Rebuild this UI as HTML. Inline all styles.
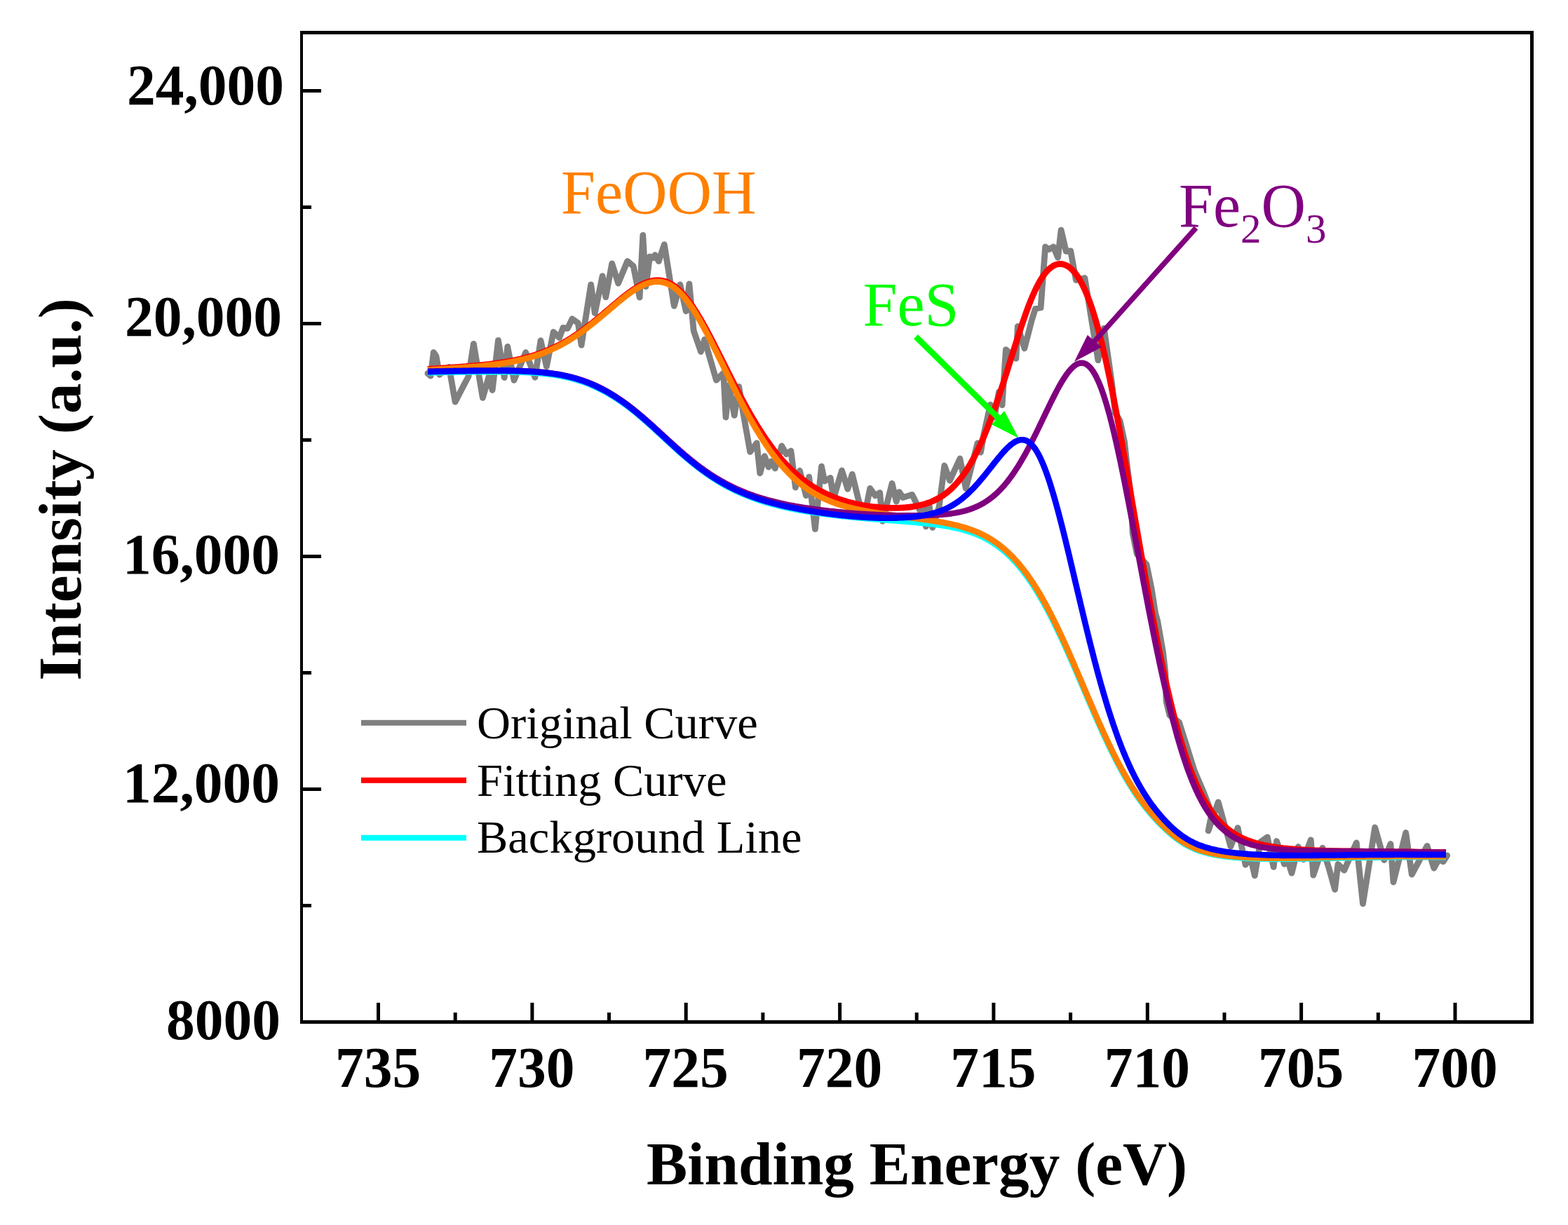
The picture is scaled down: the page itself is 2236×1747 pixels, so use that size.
<!DOCTYPE html>
<html><head><meta charset="utf-8"><style>
html,body{margin:0;padding:0;background:#fff;}
svg{display:block;}
.tl{font-family:"Liberation Serif",serif;font-weight:bold;font-size:81.5px;fill:#000;}
.at{font-family:"Liberation Serif",serif;font-weight:bold;font-size:87.3px;fill:#000;}
.lg{font-family:"Liberation Serif",serif;font-size:66.5px;fill:#000;}
.an{font-family:"Liberation Serif",serif;font-size:88px;}
</style></head><body>
<svg width="2236" height="1747" viewBox="0 0 2236 1747" xmlns="http://www.w3.org/2000/svg">
<path d="M609.9,532.5 L614.1,536.2 L618.3,502.5 L622.0,508.0 L626.7,534.3 L640.4,523.4 L649.1,573.2 L660.0,552.0 L668.0,537.0 L675.4,490.3 L688.4,567.4 L696.8,537.9 L702.1,556.4 L710.5,485.3 L719.2,538.5 L723.8,494.5 L733.0,542.3 L749.7,502.5 L763.0,538.2 L771.0,485.7 L779.4,522.7 L789.2,473.5 L797.7,481.5 L802.9,467.4 L809.4,468.3 L816.0,454.7 L824.4,460.8 L829.1,492.2 L842.7,405.8 L848.3,446.6 L859.1,393.6 L863.8,423.7 L872.7,375.8 L881.6,404.0 L894.7,372.5 L903.2,379.6 L912.1,424.1 L916.8,335.5 L921.0,408.6 L926.6,366.0 L931.3,367.8 L934.1,363.6 L939.3,372.5 L947.3,348.6 L961.3,436.3 L969.8,405.8 L978.2,443.8 L982.9,404.9 L989.2,471.8 L999.5,501.5 L1004.7,484.2 L1021.4,542.1 L1031.7,531.9 L1035.0,595.0 L1039.5,549.3 L1047.2,592.4 L1053.7,551.3 L1060.0,590.0 L1069.7,644.4 L1079.1,631.8 L1083.8,674.9 L1090.3,650.5 L1096.0,666.0 L1099.7,658.0 L1105.3,667.9 L1114.7,636.0 L1121.3,647.7 L1127.9,643.0 L1134.4,695.1 L1140.5,671.2 L1149.4,706.8 L1153.7,680.1 L1162.4,754.5 L1171.5,665.1 L1175.7,686.2 L1184.1,681.5 L1188.8,710.6 L1200.5,671.0 L1208.8,697.4 L1215.3,676.3 L1224.0,712.0 L1232.2,738.7 L1240.7,696.5 L1248.2,706.8 L1254.7,702.6 L1258.5,743.4 L1272.1,689.4 L1278.2,715.2 L1282.4,701.6 L1287.6,709.6 L1300.7,705.4 L1312.0,728.4 L1316.0,722.0 L1320.4,750.9 L1325.1,720.8 L1329.8,752.3 L1339.2,722.7 L1346.8,664.0 L1354.4,685.3 L1368.9,654.0 L1377.3,696.6 L1394.0,632.0 L1398.5,645.0 L1403.0,619.0 L1412.3,577.1 L1418.0,595.0 L1424.5,558.8 L1429.1,577.7 L1434.4,498.6 L1448.9,511.4 L1451.3,465.4 L1460.9,496.8 L1471.2,457.0 L1476.4,440.3 L1484.1,438.8 L1490.6,352.0 L1495.7,355.7 L1502.2,352.0 L1508.6,367.3 L1513.1,328.1 L1520.2,358.3 L1526.7,357.8 L1534.4,399.5 L1546.9,396.5 L1565.9,513.7 L1574.3,468.1 L1585.7,547.7 L1590.3,588.8 L1597.1,600.0 L1603.5,630.0 L1606.8,660.0 L1611.8,700.0 L1613.9,730.0 L1615.1,760.0 L1621.3,790.0 L1635.0,805.0 L1642.2,840.0 L1647.7,875.0 L1650.6,885.0 L1658.5,930.0 L1661.9,960.0 L1663.0,1000.0 L1667.9,1020.0 L1681.5,1030.0 L1691.0,1060.0 L1703.5,1100.0 L1716.5,1130.0 L1728.0,1160.0 L1723.1,1184.8 L1737.2,1144.0 L1755.0,1207.3 L1765.1,1180.6 L1776.1,1233.3 L1783.0,1222.0 L1789.3,1248.7 L1797.2,1200.8 L1807.3,1193.8 L1816.1,1236.4 L1820.5,1199.5 L1831.5,1232.4 L1836.7,1228.0 L1842.0,1245.2 L1851.3,1207.4 L1858.7,1225.8 L1869.3,1197.8 L1872.8,1248.2 L1886.0,1209.2 L1895.0,1238.0 L1903.6,1268.5 L1908.0,1232.5 L1916.8,1241.2 L1934.3,1201.8 L1943.5,1288.9 L1960.7,1180.0 L1973.8,1226.5 L1983.0,1203.5 L1987.0,1258.0 L2004.7,1187.5 L2013.3,1247.1 L2035.1,1206.4 L2044.8,1238.0 L2052.0,1225.0 L2058.0,1228.8 L2063.7,1220.0" fill="none" stroke="#808080" stroke-width="8.8" stroke-linejoin="round" stroke-linecap="round"/>
<path d="M610.0,526.5 L612.0,526.3 L614.0,526.2 L616.0,526.1 L618.0,525.9 L620.0,525.8 L622.0,525.7 L624.0,525.5 L626.0,525.4 L628.0,525.3 L630.0,525.1 L632.0,525.0 L634.0,524.9 L636.0,524.7 L638.0,524.6 L640.0,524.5 L642.0,524.3 L644.0,524.2 L646.0,524.0 L648.0,523.9 L650.0,523.7 L652.0,523.6 L654.0,523.4 L656.0,523.3 L658.0,523.1 L660.0,523.0 L662.0,522.8 L664.0,522.7 L666.0,522.5 L668.0,522.3 L670.0,522.2 L672.0,522.0 L674.0,521.8 L676.0,521.6 L678.0,521.4 L680.0,521.3 L682.0,521.1 L684.0,520.9 L686.0,520.7 L688.0,520.5 L690.0,520.3 L692.0,520.0 L694.0,519.8 L696.0,519.6 L698.0,519.4 L700.0,519.1 L702.0,518.9 L704.0,518.6 L706.0,518.4 L708.0,518.1 L710.0,517.8 L712.0,517.5 L714.0,517.2 L716.0,516.9 L718.0,516.6 L720.0,516.3 L722.0,515.9 L724.0,515.6 L726.0,515.2 L728.0,514.9 L730.0,514.5 L732.0,514.1 L734.0,513.7 L736.0,513.3 L738.0,512.8 L740.0,512.4 L742.0,511.9 L744.0,511.5 L746.0,511.0 L748.0,510.5 L750.0,509.9 L752.0,509.4 L754.0,508.8 L756.0,508.3 L758.0,507.7 L760.0,507.1 L762.0,506.5 L764.0,505.8 L766.0,505.1 L768.0,504.5 L770.0,503.8 L772.0,503.0 L774.0,502.3 L776.0,501.5 L778.0,500.7 L780.0,499.9 L782.0,499.1 L784.0,498.2 L786.0,497.3 L788.0,496.4 L790.0,495.5 L792.0,494.5 L794.0,493.6 L796.0,492.6 L798.0,491.5 L800.0,490.5 L802.0,489.4 L804.0,488.3 L806.0,487.1 L808.0,486.0 L810.0,484.8 L812.0,483.6 L814.0,482.4 L816.0,481.1 L818.0,479.8 L820.0,478.5 L822.0,477.2 L824.0,475.8 L826.0,474.4 L828.0,473.0 L830.0,471.6 L832.0,470.1 L834.0,468.6 L836.0,467.1 L838.0,465.6 L840.0,464.1 L842.0,462.5 L844.0,460.9 L846.0,459.4 L848.0,457.7 L850.0,456.1 L852.0,454.5 L854.0,452.8 L856.0,451.1 L858.0,449.5 L860.0,447.8 L862.0,446.1 L864.0,444.4 L866.0,442.7 L868.0,441.0 L870.0,439.3 L872.0,437.6 L874.0,435.9 L876.0,434.2 L878.0,432.5 L880.0,430.8 L882.0,429.1 L884.0,427.5 L886.0,425.8 L888.0,424.2 L890.0,422.6 L892.0,421.1 L894.0,419.5 L896.0,418.0 L898.0,416.5 L900.0,415.1 L902.0,413.7 L904.0,412.4 L906.0,411.1 L908.0,409.8 L910.0,408.6 L912.0,407.5 L914.0,406.4 L916.0,405.4 L918.0,404.5 L920.0,403.6 L922.0,402.9 L924.0,402.1 L926.0,401.5 L928.0,401.0 L930.0,400.5 L932.0,400.2 L934.0,399.9 L936.0,399.8 L938.0,399.7 L940.0,399.8 L942.0,400.0 L944.0,400.3 L946.0,400.7 L948.0,401.2 L950.0,401.8 L952.0,402.6 L954.0,403.5 L956.0,404.5 L958.0,405.6 L960.0,406.9 L962.0,408.3 L964.0,409.8 L966.0,411.5 L968.0,413.2 L970.0,415.1 L972.0,417.2 L974.0,419.3 L976.0,421.6 L978.0,424.0 L980.0,426.5 L982.0,429.1 L984.0,431.8 L986.0,434.6 L988.0,437.5 L990.0,440.6 L992.0,443.7 L994.0,446.9 L996.0,450.2 L998.0,453.5 L1000.0,457.0 L1002.0,460.5 L1004.0,464.1 L1006.0,467.7 L1008.0,471.4 L1010.0,475.1 L1012.0,478.9 L1014.0,482.7 L1016.0,486.6 L1018.0,490.5 L1020.0,494.4 L1022.0,498.4 L1024.0,502.3 L1026.0,506.3 L1028.0,510.3 L1030.0,514.3 L1032.0,518.3 L1034.0,522.3 L1036.0,526.3 L1038.0,530.2 L1040.0,534.2 L1042.0,538.2 L1044.0,542.1 L1046.0,546.0 L1048.0,549.9 L1050.0,553.8 L1052.0,557.7 L1054.0,561.5 L1056.0,565.3 L1058.0,569.0 L1060.0,572.7 L1062.0,576.4 L1064.0,580.1 L1066.0,583.7 L1068.0,587.2 L1070.0,590.7 L1072.0,594.2 L1074.0,597.6 L1076.0,600.9 L1078.0,604.2 L1080.0,607.5 L1082.0,610.7 L1084.0,613.9 L1086.0,617.0 L1088.0,620.0 L1090.0,623.0 L1092.0,625.9 L1094.0,628.8 L1096.0,631.7 L1098.0,634.4 L1100.0,637.1 L1102.0,639.8 L1104.0,642.4 L1106.0,645.0 L1108.0,647.4 L1110.0,649.9 L1112.0,652.3 L1114.0,654.6 L1116.0,656.9 L1118.0,659.1 L1120.0,661.2 L1122.0,663.3 L1124.0,665.4 L1126.0,667.4 L1128.0,669.4 L1130.0,671.3 L1132.0,673.1 L1134.0,674.9 L1136.0,676.7 L1138.0,678.4 L1140.0,680.1 L1142.0,681.7 L1144.0,683.3 L1146.0,684.8 L1148.0,686.3 L1150.0,687.8 L1152.0,689.2 L1154.0,690.5 L1156.0,691.9 L1158.0,693.2 L1160.0,694.4 L1162.0,695.7 L1164.0,696.8 L1166.0,698.0 L1168.0,699.1 L1170.0,700.2 L1172.0,701.2 L1174.0,702.3 L1176.0,703.3 L1178.0,704.2 L1180.0,705.1 L1182.0,706.0 L1184.0,706.9 L1186.0,707.7 L1188.0,708.6 L1190.0,709.4 L1192.0,710.1 L1194.0,710.9 L1196.0,711.6 L1198.0,712.3 L1200.0,712.9 L1202.0,713.6 L1204.0,714.2 L1206.0,714.8 L1208.0,715.4 L1210.0,715.9 L1212.0,716.5 L1214.0,717.0 L1216.0,717.5 L1218.0,718.0 L1220.0,718.4 L1222.0,718.9 L1224.0,719.3 L1226.0,719.7 L1228.0,720.1 L1230.0,720.5 L1232.0,720.8 L1234.0,721.1 L1236.0,721.5 L1238.0,721.8 L1240.0,722.1 L1242.0,722.3 L1244.0,722.6 L1246.0,722.8 L1248.0,723.0 L1250.0,723.2 L1252.0,723.4 L1254.0,723.6 L1256.0,723.8 L1258.0,723.9 L1260.0,724.0 L1262.0,724.1 L1264.0,724.2 L1266.0,724.3 L1268.0,724.4 L1270.0,724.4 L1272.0,724.4 L1274.0,724.4 L1276.0,724.4 L1278.0,724.4 L1280.0,724.4 L1282.0,724.3 L1284.0,724.2 L1286.0,724.1 L1288.0,724.0 L1290.0,723.8 L1292.0,723.7 L1294.0,723.5 L1296.0,723.3 L1298.0,723.0 L1300.0,722.8 L1302.0,722.5 L1304.0,722.2 L1306.0,721.8 L1308.0,721.4 L1310.0,721.0 L1312.0,720.6 L1314.0,720.1 L1316.0,719.6 L1318.0,719.0 L1320.0,718.4 L1322.0,717.7 L1324.0,717.0 L1326.0,716.3 L1328.0,715.5 L1330.0,714.7 L1332.0,713.8 L1334.0,712.8 L1336.0,711.8 L1338.0,710.7 L1340.0,709.5 L1342.0,708.3 L1344.0,707.0 L1346.0,705.7 L1348.0,704.2 L1350.0,702.7 L1352.0,701.1 L1354.0,699.4 L1356.0,697.6 L1358.0,695.7 L1360.0,693.7 L1362.0,691.6 L1364.0,689.4 L1366.0,687.1 L1368.0,684.7 L1370.0,682.2 L1372.0,679.6 L1374.0,676.9 L1376.0,674.0 L1378.0,671.0 L1380.0,667.9 L1382.0,664.7 L1384.0,661.3 L1386.0,657.8 L1388.0,654.1 L1390.0,650.4 L1392.0,646.5 L1394.0,642.4 L1396.0,638.3 L1398.0,634.0 L1400.0,629.5 L1402.0,624.9 L1404.0,620.2 L1406.0,615.4 L1408.0,610.4 L1410.0,605.3 L1412.0,600.1 L1414.0,594.8 L1416.0,589.3 L1418.0,583.7 L1420.0,578.1 L1422.0,572.3 L1424.0,566.4 L1426.0,560.4 L1428.0,554.4 L1430.0,548.3 L1432.0,542.1 L1434.0,535.9 L1436.0,529.6 L1438.0,523.2 L1440.0,516.9 L1442.0,510.5 L1444.0,504.2 L1446.0,497.8 L1448.0,491.5 L1450.0,485.3 L1452.0,479.0 L1454.0,472.9 L1456.0,466.8 L1458.0,460.9 L1460.0,455.1 L1462.0,449.4 L1464.0,443.8 L1466.0,438.4 L1468.0,433.2 L1470.0,428.2 L1472.0,423.4 L1474.0,418.7 L1476.0,414.3 L1478.0,410.2 L1480.0,406.2 L1482.0,402.5 L1484.0,399.1 L1486.0,395.9 L1488.0,392.9 L1490.0,390.2 L1492.0,387.8 L1494.0,385.6 L1496.0,383.6 L1498.0,381.9 L1500.0,380.4 L1502.0,379.2 L1504.0,378.1 L1506.0,377.4 L1508.0,376.8 L1510.0,376.5 L1512.0,376.4 L1514.0,376.5 L1516.0,376.9 L1518.0,377.5 L1520.0,378.3 L1522.0,379.3 L1524.0,380.6 L1526.0,382.1 L1528.0,383.9 L1530.0,385.8 L1532.0,388.1 L1534.0,390.6 L1536.0,393.3 L1538.0,396.3 L1540.0,399.6 L1542.0,403.2 L1544.0,407.0 L1546.0,411.1 L1548.0,415.5 L1550.0,420.3 L1552.0,425.3 L1554.0,430.6 L1556.0,436.3 L1558.0,442.2 L1560.0,448.5 L1562.0,455.1 L1564.0,462.0 L1566.0,469.3 L1568.0,476.8 L1570.0,484.6 L1572.0,492.8 L1574.0,501.2 L1576.0,509.9 L1578.0,518.9 L1580.0,528.2 L1582.0,537.7 L1584.0,547.4 L1586.0,557.4 L1588.0,567.6 L1590.0,578.0 L1592.0,588.6 L1594.0,599.4 L1596.0,610.3 L1598.0,621.4 L1600.0,632.6 L1602.0,643.9 L1604.0,655.2 L1606.0,666.7 L1608.0,678.2 L1610.0,689.8 L1612.0,701.4 L1614.0,713.1 L1616.0,724.7 L1618.0,736.3 L1620.0,747.9 L1622.0,759.5 L1624.0,771.0 L1626.0,782.5 L1628.0,793.9 L1630.0,805.3 L1632.0,816.5 L1634.0,827.7 L1636.0,838.7 L1638.0,849.6 L1640.0,860.5 L1642.0,871.1 L1644.0,881.7 L1646.0,892.1 L1648.0,902.4 L1650.0,912.5 L1652.0,922.5 L1654.0,932.2 L1656.0,941.9 L1658.0,951.3 L1660.0,960.6 L1662.0,969.7 L1664.0,978.6 L1666.0,987.3 L1668.0,995.9 L1670.0,1004.2 L1672.0,1012.3 L1674.0,1020.3 L1676.0,1028.0 L1678.0,1035.5 L1680.0,1042.8 L1682.0,1049.9 L1684.0,1056.7 L1686.0,1063.4 L1688.0,1069.8 L1690.0,1076.0 L1692.0,1082.0 L1694.0,1087.8 L1696.0,1093.4 L1698.0,1098.8 L1700.0,1104.0 L1702.0,1109.0 L1704.0,1113.8 L1706.0,1118.4 L1708.0,1122.8 L1710.0,1127.0 L1712.0,1131.1 L1714.0,1135.0 L1716.0,1138.7 L1718.0,1142.2 L1720.0,1145.7 L1722.0,1148.9 L1724.0,1152.0 L1726.0,1155.0 L1728.0,1157.9 L1730.0,1160.6 L1732.0,1163.2 L1734.0,1165.6 L1736.0,1168.0 L1738.0,1170.2 L1740.0,1172.4 L1742.0,1174.4 L1744.0,1176.4 L1746.0,1178.2 L1748.0,1180.0 L1750.0,1181.6 L1752.0,1183.2 L1754.0,1184.8 L1756.0,1186.2 L1758.0,1187.6 L1760.0,1188.9 L1762.0,1190.1 L1764.0,1191.3 L1766.0,1192.4 L1768.0,1193.4 L1770.0,1194.5 L1772.0,1195.4 L1774.0,1196.3 L1776.0,1197.2 L1778.0,1198.0 L1780.0,1198.8 L1782.0,1199.5 L1784.0,1200.2 L1786.0,1200.9 L1788.0,1201.5 L1790.0,1202.1 L1792.0,1202.7 L1794.0,1203.2 L1796.0,1203.8 L1798.0,1204.2 L1800.0,1204.7 L1802.0,1205.2 L1804.0,1205.6 L1806.0,1206.0 L1808.0,1206.4 L1810.0,1206.7 L1812.0,1207.1 L1814.0,1207.4 L1816.0,1207.7 L1818.0,1208.0 L1820.0,1208.3 L1822.0,1208.6 L1824.0,1208.8 L1826.0,1209.1 L1828.0,1209.3 L1830.0,1209.6 L1832.0,1209.8 L1834.0,1210.0 L1836.0,1210.2 L1838.0,1210.4 L1840.0,1210.6 L1842.0,1210.7 L1844.0,1210.9 L1846.0,1211.1 L1848.0,1211.2 L1850.0,1211.4 L1852.0,1211.5 L1854.0,1211.6 L1856.0,1211.8 L1858.0,1211.9 L1860.0,1212.0 L1862.0,1212.1 L1864.0,1212.2 L1866.0,1212.3 L1868.0,1212.4 L1870.0,1212.5 L1872.0,1212.6 L1874.0,1212.7 L1876.0,1212.8 L1878.0,1212.8 L1880.0,1212.9 L1882.0,1213.0 L1884.0,1213.1 L1886.0,1213.1 L1888.0,1213.2 L1890.0,1213.3 L1892.0,1213.3 L1894.0,1213.4 L1896.0,1213.4 L1898.0,1213.5 L1900.0,1213.5 L1902.0,1213.6 L1904.0,1213.6 L1906.0,1213.7 L1908.0,1213.7 L1910.0,1213.7 L1912.0,1213.8 L1914.0,1213.8 L1916.0,1213.8 L1918.0,1213.9 L1920.0,1213.9 L1922.0,1213.9 L1924.0,1214.0 L1926.0,1214.0 L1928.0,1214.0 L1930.0,1214.1 L1932.0,1214.1 L1934.0,1214.1 L1936.0,1214.1 L1938.0,1214.2 L1940.0,1214.2 L1942.0,1214.2 L1944.0,1214.2 L1946.0,1214.3 L1948.0,1214.3 L1950.0,1214.3 L1952.0,1214.3 L1954.0,1214.4 L1956.0,1214.4 L1958.0,1214.4 L1960.0,1214.4 L1962.0,1214.4 L1964.0,1214.5 L1966.0,1214.5 L1968.0,1214.5 L1970.0,1214.5 L1972.0,1214.6 L1974.0,1214.6 L1976.0,1214.6 L1978.0,1214.6 L1980.0,1214.7 L1982.0,1214.7 L1984.0,1214.7 L1986.0,1214.7 L1988.0,1214.7 L1990.0,1214.8 L1992.0,1214.8 L1994.0,1214.8 L1996.0,1214.8 L1998.0,1214.9 L2000.0,1214.9 L2002.0,1214.9 L2004.0,1214.9 L2006.0,1214.9 L2008.0,1215.0 L2010.0,1215.0 L2012.0,1215.0 L2014.0,1215.0 L2016.0,1215.0 L2018.0,1215.1 L2020.0,1215.1 L2022.0,1215.1 L2024.0,1215.1 L2026.0,1215.1 L2028.0,1215.1 L2030.0,1215.2 L2032.0,1215.2 L2034.0,1215.2 L2036.0,1215.2 L2038.0,1215.2 L2040.0,1215.2 L2042.0,1215.3 L2044.0,1215.3 L2046.0,1215.3 L2048.0,1215.3 L2050.0,1215.3 L2052.0,1215.3 L2054.0,1215.3 L2056.0,1215.3 L2058.0,1215.4 L2060.0,1215.4 L2062.0,1215.4" fill="none" stroke="#FF0000" stroke-width="8.8" stroke-linejoin="round"/>
<path d="M610.0,531.4 L612.0,531.3 L614.0,531.3 L616.0,531.2 L618.0,531.2 L620.0,531.1 L622.0,531.1 L624.0,531.0 L626.0,531.0 L628.0,530.9 L630.0,530.9 L632.0,530.9 L634.0,530.8 L636.0,530.8 L638.0,530.8 L640.0,530.7 L642.0,530.7 L644.0,530.7 L646.0,530.6 L648.0,530.6 L650.0,530.6 L652.0,530.5 L654.0,530.5 L656.0,530.5 L658.0,530.4 L660.0,530.4 L662.0,530.4 L664.0,530.4 L666.0,530.3 L668.0,530.3 L670.0,530.3 L672.0,530.3 L674.0,530.3 L676.0,530.2 L678.0,530.2 L680.0,530.2 L682.0,530.2 L684.0,530.2 L686.0,530.2 L688.0,530.2 L690.0,530.2 L692.0,530.2 L694.0,530.1 L696.0,530.1 L698.0,530.1 L700.0,530.1 L702.0,530.1 L704.0,530.1 L706.0,530.1 L708.0,530.2 L710.0,530.2 L712.0,530.2 L714.0,530.2 L716.0,530.2 L718.0,530.2 L720.0,530.2 L722.0,530.3 L724.0,530.3 L726.0,530.3 L728.0,530.3 L730.0,530.4 L732.0,530.4 L734.0,530.5 L736.0,530.5 L738.0,530.6 L740.0,530.6 L742.0,530.7 L744.0,530.7 L746.0,530.8 L748.0,530.9 L750.0,531.0 L752.0,531.1 L754.0,531.2 L756.0,531.3 L758.0,531.4 L760.0,531.5 L762.0,531.7 L764.0,531.8 L766.0,532.0 L768.0,532.1 L770.0,532.3 L772.0,532.5 L774.0,532.7 L776.0,532.9 L778.0,533.1 L780.0,533.3 L782.0,533.5 L784.0,533.8 L786.0,534.1 L788.0,534.3 L790.0,534.6 L792.0,534.9 L794.0,535.3 L796.0,535.6 L798.0,536.0 L800.0,536.3 L802.0,536.7 L804.0,537.1 L806.0,537.5 L808.0,538.0 L810.0,538.4 L812.0,538.9 L814.0,539.4 L816.0,539.9 L818.0,540.5 L820.0,541.0 L822.0,541.6 L824.0,542.2 L826.0,542.8 L828.0,543.5 L830.0,544.1 L832.0,544.8 L834.0,545.5 L836.0,546.3 L838.0,547.0 L840.0,547.8 L842.0,548.6 L844.0,549.5 L846.0,550.4 L848.0,551.2 L850.0,552.2 L852.0,553.1 L854.0,554.1 L856.0,555.0 L858.0,556.1 L860.0,557.1 L862.0,558.2 L864.0,559.3 L866.0,560.4 L868.0,561.5 L870.0,562.7 L872.0,563.9 L874.0,565.1 L876.0,566.4 L878.0,567.7 L880.0,569.0 L882.0,570.3 L884.0,571.6 L886.0,573.0 L888.0,574.4 L890.0,575.9 L892.0,577.3 L894.0,578.8 L896.0,580.3 L898.0,581.8 L900.0,583.4 L902.0,584.9 L904.0,586.5 L906.0,588.1 L908.0,589.8 L910.0,591.4 L912.0,593.1 L914.0,594.8 L916.0,596.5 L918.0,598.2 L920.0,600.0 L922.0,601.7 L924.0,603.5 L926.0,605.3 L928.0,607.1 L930.0,608.9 L932.0,610.7 L934.0,612.6 L936.0,614.4 L938.0,616.2 L940.0,618.1 L942.0,619.9 L944.0,621.8 L946.0,623.6 L948.0,625.5 L950.0,627.3 L952.0,629.2 L954.0,631.0 L956.0,632.9 L958.0,634.7 L960.0,636.5 L962.0,638.4 L964.0,640.2 L966.0,642.0 L968.0,643.8 L970.0,645.5 L972.0,647.3 L974.0,649.0 L976.0,650.8 L978.0,652.5 L980.0,654.2 L982.0,655.9 L984.0,657.5 L986.0,659.2 L988.0,660.8 L990.0,662.4 L992.0,664.0 L994.0,665.6 L996.0,667.1 L998.0,668.6 L1000.0,670.1 L1002.0,671.6 L1004.0,673.1 L1006.0,674.5 L1008.0,675.9 L1010.0,677.3 L1012.0,678.7 L1014.0,680.0 L1016.0,681.3 L1018.0,682.6 L1020.0,683.9 L1022.0,685.2 L1024.0,686.4 L1026.0,687.6 L1028.0,688.8 L1030.0,689.9 L1032.0,691.1 L1034.0,692.2 L1036.0,693.3 L1038.0,694.3 L1040.0,695.4 L1042.0,696.4 L1044.0,697.4 L1046.0,698.4 L1048.0,699.4 L1050.0,700.3 L1052.0,701.3 L1054.0,702.2 L1056.0,703.1 L1058.0,703.9 L1060.0,704.8 L1062.0,705.6 L1064.0,706.5 L1066.0,707.3 L1068.0,708.0 L1070.0,708.8 L1072.0,709.6 L1074.0,710.3 L1076.0,711.0 L1078.0,711.7 L1080.0,712.4 L1082.0,713.1 L1084.0,713.8 L1086.0,714.4 L1088.0,715.0 L1090.0,715.7 L1092.0,716.3 L1094.0,716.8 L1096.0,717.4 L1098.0,718.0 L1100.0,718.5 L1102.0,719.1 L1104.0,719.6 L1106.0,720.1 L1108.0,720.6 L1110.0,721.1 L1112.0,721.6 L1114.0,722.1 L1116.0,722.6 L1118.0,723.0 L1120.0,723.5 L1122.0,723.9 L1124.0,724.3 L1126.0,724.8 L1128.0,725.2 L1130.0,725.6 L1132.0,726.0 L1134.0,726.4 L1136.0,726.7 L1138.0,727.1 L1140.0,727.5 L1142.0,727.8 L1144.0,728.2 L1146.0,728.5 L1148.0,728.9 L1150.0,729.2 L1152.0,729.5 L1154.0,729.8 L1156.0,730.2 L1158.0,730.5 L1160.0,730.8 L1162.0,731.1 L1164.0,731.3 L1166.0,731.6 L1168.0,731.9 L1170.0,732.2 L1172.0,732.5 L1174.0,732.7 L1176.0,733.0 L1178.0,733.3 L1180.0,733.5 L1182.0,733.8 L1184.0,734.0 L1186.0,734.3 L1188.0,734.5 L1190.0,734.7 L1192.0,735.0 L1194.0,735.2 L1196.0,735.4 L1198.0,735.6 L1200.0,735.9 L1202.0,736.1 L1204.0,736.3 L1206.0,736.5 L1208.0,736.7 L1210.0,736.9 L1212.0,737.1 L1214.0,737.3 L1216.0,737.5 L1218.0,737.7 L1220.0,737.9 L1222.0,738.1 L1224.0,738.2 L1226.0,738.4 L1228.0,738.6 L1230.0,738.8 L1232.0,739.0 L1234.0,739.1 L1236.0,739.3 L1238.0,739.5 L1240.0,739.6 L1242.0,739.8 L1244.0,740.0 L1246.0,740.1 L1248.0,740.3 L1250.0,740.5 L1252.0,740.6 L1254.0,740.8 L1256.0,741.0 L1258.0,741.1 L1260.0,741.3 L1262.0,741.4 L1264.0,741.6 L1266.0,741.7 L1268.0,741.9 L1270.0,742.1 L1272.0,742.2 L1274.0,742.4 L1276.0,742.5 L1278.0,742.7 L1280.0,742.8 L1282.0,743.0 L1284.0,743.2 L1286.0,743.3 L1288.0,743.5 L1290.0,743.6 L1292.0,743.8 L1294.0,744.0 L1296.0,744.1 L1298.0,744.3 L1300.0,744.5 L1302.0,744.7 L1304.0,744.8 L1306.0,745.0 L1308.0,745.2 L1310.0,745.4 L1312.0,745.6 L1314.0,745.8 L1316.0,746.0 L1318.0,746.2 L1320.0,746.4 L1322.0,746.6 L1324.0,746.8 L1326.0,747.0 L1328.0,747.3 L1330.0,747.5 L1332.0,747.8 L1334.0,748.0 L1336.0,748.3 L1338.0,748.6 L1340.0,748.8 L1342.0,749.1 L1344.0,749.4 L1346.0,749.7 L1348.0,750.1 L1350.0,750.4 L1352.0,750.8 L1354.0,751.1 L1356.0,751.5 L1358.0,751.9 L1360.0,752.3 L1362.0,752.7 L1364.0,753.2 L1366.0,753.6 L1368.0,754.1 L1370.0,754.6 L1372.0,755.1 L1374.0,755.7 L1376.0,756.3 L1378.0,756.8 L1380.0,757.5 L1382.0,758.1 L1384.0,758.8 L1386.0,759.5 L1388.0,760.2 L1390.0,761.0 L1392.0,761.7 L1394.0,762.6 L1396.0,763.4 L1398.0,764.3 L1400.0,765.2 L1402.0,766.2 L1404.0,767.2 L1406.0,768.3 L1408.0,769.3 L1410.0,770.5 L1412.0,771.6 L1414.0,772.9 L1416.0,774.1 L1418.0,775.4 L1420.0,776.8 L1422.0,778.2 L1424.0,779.7 L1426.0,781.2 L1428.0,782.7 L1430.0,784.4 L1432.0,786.0 L1434.0,787.8 L1436.0,789.6 L1438.0,791.4 L1440.0,793.3 L1442.0,795.3 L1444.0,797.4 L1446.0,799.5 L1448.0,801.6 L1450.0,803.9 L1452.0,806.1 L1454.0,808.5 L1456.0,810.9 L1458.0,813.4 L1460.0,816.0 L1462.0,818.6 L1464.0,821.3 L1466.0,824.1 L1468.0,827.0 L1470.0,829.9 L1472.0,832.9 L1474.0,835.9 L1476.0,839.0 L1478.0,842.2 L1480.0,845.5 L1482.0,848.8 L1484.0,852.2 L1486.0,855.7 L1488.0,859.2 L1490.0,862.8 L1492.0,866.5 L1494.0,870.2 L1496.0,874.0 L1498.0,877.9 L1500.0,881.8 L1502.0,885.8 L1504.0,889.8 L1506.0,893.9 L1508.0,898.1 L1510.0,902.3 L1512.0,906.5 L1514.0,910.8 L1516.0,915.1 L1518.0,919.5 L1520.0,924.0 L1522.0,928.4 L1524.0,932.9 L1526.0,937.5 L1528.0,942.0 L1530.0,946.6 L1532.0,951.2 L1534.0,955.9 L1536.0,960.5 L1538.0,965.2 L1540.0,969.8 L1542.0,974.5 L1544.0,979.2 L1546.0,983.9 L1548.0,988.6 L1550.0,993.3 L1552.0,997.9 L1554.0,1002.6 L1556.0,1007.3 L1558.0,1011.9 L1560.0,1016.5 L1562.0,1021.1 L1564.0,1025.6 L1566.0,1030.1 L1568.0,1034.6 L1570.0,1039.1 L1572.0,1043.5 L1574.0,1047.9 L1576.0,1052.2 L1578.0,1056.5 L1580.0,1060.7 L1582.0,1064.9 L1584.0,1069.0 L1586.0,1073.1 L1588.0,1077.1 L1590.0,1081.1 L1592.0,1085.0 L1594.0,1088.8 L1596.0,1092.6 L1598.0,1096.3 L1600.0,1100.0 L1602.0,1103.5 L1604.0,1107.1 L1606.0,1110.5 L1608.0,1113.9 L1610.0,1117.2 L1612.0,1120.5 L1614.0,1123.7 L1616.0,1126.8 L1618.0,1129.8 L1620.0,1132.8 L1622.0,1135.7 L1624.0,1138.6 L1626.0,1141.4 L1628.0,1144.1 L1630.0,1146.8 L1632.0,1149.4 L1634.0,1152.0 L1636.0,1154.5 L1638.0,1156.9 L1640.0,1159.3 L1642.0,1161.6 L1644.0,1163.9 L1646.0,1166.2 L1648.0,1168.4 L1650.0,1170.5 L1652.0,1172.6 L1654.0,1174.7 L1656.0,1176.7 L1658.0,1178.7 L1660.0,1180.6 L1662.0,1182.5 L1664.0,1184.3 L1666.0,1186.1 L1668.0,1187.9 L1670.0,1189.6 L1672.0,1191.3 L1674.0,1192.9 L1676.0,1194.5 L1678.0,1196.0 L1680.0,1197.4 L1682.0,1198.9 L1684.0,1200.2 L1686.0,1201.5 L1688.0,1202.8 L1690.0,1204.0 L1692.0,1205.1 L1694.0,1206.2 L1696.0,1207.2 L1698.0,1208.2 L1700.0,1209.2 L1702.0,1210.1 L1704.0,1210.9 L1706.0,1211.7 L1708.0,1212.5 L1710.0,1213.2 L1712.0,1213.8 L1714.0,1214.5 L1716.0,1215.1 L1718.0,1215.7 L1720.0,1216.2 L1722.0,1216.7 L1724.0,1217.2 L1726.0,1217.7 L1728.0,1218.1 L1730.0,1218.5 L1732.0,1218.9 L1734.0,1219.3 L1736.0,1219.6 L1738.0,1220.0 L1740.0,1220.3 L1742.0,1220.6 L1744.0,1220.9 L1746.0,1221.1 L1748.0,1221.4 L1750.0,1221.6 L1752.0,1221.8 L1754.0,1222.1 L1756.0,1222.3 L1758.0,1222.5 L1760.0,1222.7 L1762.0,1222.8 L1764.0,1223.0 L1766.0,1223.1 L1768.0,1223.3 L1770.0,1223.4 L1772.0,1223.6 L1774.0,1223.7 L1776.0,1223.8 L1778.0,1223.9 L1780.0,1224.0 L1782.0,1224.1 L1784.0,1224.2 L1786.0,1224.3 L1788.0,1224.4 L1790.0,1224.4 L1792.0,1224.5 L1794.0,1224.6 L1796.0,1224.6 L1798.0,1224.7 L1800.0,1224.7 L1802.0,1224.8 L1804.0,1224.8 L1806.0,1224.8 L1808.0,1224.9 L1810.0,1224.9 L1812.0,1224.9 L1814.0,1224.9 L1816.0,1224.9 L1818.0,1224.9 L1820.0,1225.0 L1822.0,1225.0 L1824.0,1225.0 L1826.0,1225.0 L1828.0,1225.0 L1830.0,1224.9 L1832.0,1224.9 L1834.0,1224.9 L1836.0,1224.9 L1838.0,1224.9 L1840.0,1224.9 L1842.0,1224.9 L1844.0,1224.8 L1846.0,1224.8 L1848.0,1224.8 L1850.0,1224.8 L1852.0,1224.7 L1854.0,1224.7 L1856.0,1224.7 L1858.0,1224.6 L1860.0,1224.6 L1862.0,1224.6 L1864.0,1224.5 L1866.0,1224.5 L1868.0,1224.5 L1870.0,1224.4 L1872.0,1224.4 L1874.0,1224.3 L1876.0,1224.3 L1878.0,1224.3 L1880.0,1224.2 L1882.0,1224.2 L1884.0,1224.1 L1886.0,1224.1 L1888.0,1224.0 L1890.0,1224.0 L1892.0,1223.9 L1894.0,1223.9 L1896.0,1223.9 L1898.0,1223.8 L1900.0,1223.8 L1902.0,1223.7 L1904.0,1223.7 L1906.0,1223.6 L1908.0,1223.6 L1910.0,1223.5 L1912.0,1223.5 L1914.0,1223.4 L1916.0,1223.4 L1918.0,1223.4 L1920.0,1223.3 L1922.0,1223.3 L1924.0,1223.2 L1926.0,1223.2 L1928.0,1223.1 L1930.0,1223.1 L1932.0,1223.1 L1934.0,1223.0 L1936.0,1223.0 L1938.0,1223.0 L1940.0,1222.9 L1942.0,1222.9 L1944.0,1222.8 L1946.0,1222.8 L1948.0,1222.8 L1950.0,1222.7 L1952.0,1222.7 L1954.0,1222.7 L1956.0,1222.7 L1958.0,1222.6 L1960.0,1222.6 L1962.0,1222.6 L1964.0,1222.6 L1966.0,1222.5 L1968.0,1222.5 L1970.0,1222.5 L1972.0,1222.5 L1974.0,1222.5 L1976.0,1222.5 L1978.0,1222.4 L1980.0,1222.4 L1982.0,1222.4 L1984.0,1222.4 L1986.0,1222.4 L1988.0,1222.4 L1990.0,1222.4 L1992.0,1222.4 L1994.0,1222.3 L1996.0,1222.3 L1998.0,1222.3 L2000.0,1222.3 L2002.0,1222.3 L2004.0,1222.3 L2006.0,1222.3 L2008.0,1222.3 L2010.0,1222.3 L2012.0,1222.3 L2014.0,1222.3 L2016.0,1222.3 L2018.0,1222.3 L2020.0,1222.3 L2022.0,1222.3 L2024.0,1222.3 L2026.0,1222.3 L2028.0,1222.3 L2030.0,1222.3 L2032.0,1222.3 L2034.0,1222.3 L2036.0,1222.3 L2038.0,1222.3 L2040.0,1222.3 L2042.0,1222.3 L2044.0,1222.3 L2046.0,1222.3 L2048.0,1222.3 L2050.0,1222.2 L2052.0,1222.2 L2054.0,1222.2 L2056.0,1222.2 L2058.0,1222.2 L2060.0,1222.2 L2062.0,1222.2" fill="none" stroke="#00FFFF" stroke-width="8.6" stroke-linejoin="round"/>
<path d="M610.0,527.6 L612.0,527.5 L614.0,527.4 L616.0,527.2 L618.0,527.1 L620.0,527.0 L622.0,526.9 L624.0,526.7 L626.0,526.6 L628.0,526.5 L630.0,526.3 L632.0,526.2 L634.0,526.1 L636.0,525.9 L638.0,525.8 L640.0,525.7 L642.0,525.5 L644.0,525.4 L646.0,525.3 L648.0,525.1 L650.0,525.0 L652.0,524.8 L654.0,524.7 L656.0,524.5 L658.0,524.4 L660.0,524.2 L662.0,524.1 L664.0,523.9 L666.0,523.8 L668.0,523.6 L670.0,523.4 L672.0,523.3 L674.0,523.1 L676.0,522.9 L678.0,522.7 L680.0,522.6 L682.0,522.4 L684.0,522.2 L686.0,522.0 L688.0,521.8 L690.0,521.6 L692.0,521.4 L694.0,521.1 L696.0,520.9 L698.0,520.7 L700.0,520.5 L702.0,520.2 L704.0,520.0 L706.0,519.7 L708.0,519.4 L710.0,519.2 L712.0,518.9 L714.0,518.6 L716.0,518.3 L718.0,518.0 L720.0,517.7 L722.0,517.3 L724.0,517.0 L726.0,516.6 L728.0,516.3 L730.0,515.9 L732.0,515.5 L734.0,515.1 L736.0,514.7 L738.0,514.2 L740.0,513.8 L742.0,513.3 L744.0,512.9 L746.0,512.4 L748.0,511.9 L750.0,511.3 L752.0,510.8 L754.0,510.3 L756.0,509.7 L758.0,509.1 L760.0,508.5 L762.0,507.9 L764.0,507.2 L766.0,506.6 L768.0,505.9 L770.0,505.2 L772.0,504.4 L774.0,503.7 L776.0,502.9 L778.0,502.1 L780.0,501.3 L782.0,500.5 L784.0,499.6 L786.0,498.7 L788.0,497.8 L790.0,496.9 L792.0,495.9 L794.0,495.0 L796.0,494.0 L798.0,492.9 L800.0,491.9 L802.0,490.8 L804.0,489.7 L806.0,488.5 L808.0,487.4 L810.0,486.2 L812.0,485.0 L814.0,483.7 L816.0,482.5 L818.0,481.2 L820.0,479.9 L822.0,478.5 L824.0,477.2 L826.0,475.8 L828.0,474.4 L830.0,472.9 L832.0,471.5 L834.0,470.0 L836.0,468.5 L838.0,467.0 L840.0,465.4 L842.0,463.9 L844.0,462.3 L846.0,460.7 L848.0,459.1 L850.0,457.5 L852.0,455.8 L854.0,454.2 L856.0,452.5 L858.0,450.8 L860.0,449.2 L862.0,447.5 L864.0,445.8 L866.0,444.1 L868.0,442.4 L870.0,440.7 L872.0,438.9 L874.0,437.3 L876.0,435.6 L878.0,433.9 L880.0,432.2 L882.0,430.5 L884.0,428.9 L886.0,427.3 L888.0,425.7 L890.0,424.1 L892.0,422.5 L894.0,421.0 L896.0,419.5 L898.0,418.1 L900.0,416.6 L902.0,415.3 L904.0,413.9 L906.0,412.7 L908.0,411.4 L910.0,410.3 L912.0,409.1 L914.0,408.1 L916.0,407.1 L918.0,406.2 L920.0,405.3 L922.0,404.6 L924.0,403.9 L926.0,403.3 L928.0,402.8 L930.0,402.4 L932.0,402.1 L934.0,401.8 L936.0,401.7 L938.0,401.7 L940.0,401.8 L942.0,402.0 L944.0,402.3 L946.0,402.8 L948.0,403.3 L950.0,404.0 L952.0,404.8 L954.0,405.7 L956.0,406.8 L958.0,408.0 L960.0,409.3 L962.0,410.7 L964.0,412.3 L966.0,414.0 L968.0,415.8 L970.0,417.8 L972.0,419.9 L974.0,422.1 L976.0,424.4 L978.0,426.8 L980.0,429.4 L982.0,432.1 L984.0,434.9 L986.0,437.7 L988.0,440.7 L990.0,443.8 L992.0,447.0 L994.0,450.3 L996.0,453.7 L998.0,457.1 L1000.0,460.6 L1002.0,464.2 L1004.0,467.9 L1006.0,471.6 L1008.0,475.3 L1010.0,479.2 L1012.0,483.0 L1014.0,487.0 L1016.0,490.9 L1018.0,494.9 L1020.0,498.9 L1022.0,502.9 L1024.0,507.0 L1026.0,511.1 L1028.0,515.1 L1030.0,519.2 L1032.0,523.3 L1034.0,527.4 L1036.0,531.5 L1038.0,535.6 L1040.0,539.7 L1042.0,543.7 L1044.0,547.8 L1046.0,551.8 L1048.0,555.8 L1050.0,559.8 L1052.0,563.7 L1054.0,567.6 L1056.0,571.5 L1058.0,575.3 L1060.0,579.2 L1062.0,582.9 L1064.0,586.7 L1066.0,590.3 L1068.0,594.0 L1070.0,597.6 L1072.0,601.1 L1074.0,604.6 L1076.0,608.1 L1078.0,611.5 L1080.0,614.8 L1082.0,618.1 L1084.0,621.3 L1086.0,624.5 L1088.0,627.6 L1090.0,630.7 L1092.0,633.7 L1094.0,636.7 L1096.0,639.6 L1098.0,642.4 L1100.0,645.2 L1102.0,647.9 L1104.0,650.6 L1106.0,653.2 L1108.0,655.7 L1110.0,658.2 L1112.0,660.6 L1114.0,663.0 L1116.0,665.3 L1118.0,667.6 L1120.0,669.8 L1122.0,671.9 L1124.0,674.0 L1126.0,676.0 L1128.0,678.0 L1130.0,680.0 L1132.0,681.8 L1134.0,683.7 L1136.0,685.4 L1138.0,687.1 L1140.0,688.8 L1142.0,690.4 L1144.0,692.0 L1146.0,693.5 L1148.0,695.0 L1150.0,696.5 L1152.0,697.9 L1154.0,699.2 L1156.0,700.5 L1158.0,701.8 L1160.0,703.0 L1162.0,704.2 L1164.0,705.3 L1166.0,706.4 L1168.0,707.5 L1170.0,708.5 L1172.0,709.5 L1174.0,710.5 L1176.0,711.5 L1178.0,712.4 L1180.0,713.2 L1182.0,714.1 L1184.0,714.9 L1186.0,715.7 L1188.0,716.5 L1190.0,717.2 L1192.0,717.9 L1194.0,718.6 L1196.0,719.3 L1198.0,719.9 L1200.0,720.6 L1202.0,721.2 L1204.0,721.7 L1206.0,722.3 L1208.0,722.9 L1210.0,723.4 L1212.0,723.9 L1214.0,724.4 L1216.0,724.9 L1218.0,725.4 L1220.0,725.8 L1222.0,726.3 L1224.0,726.7 L1226.0,727.1 L1228.0,727.5 L1230.0,727.9 L1232.0,728.3 L1234.0,728.7 L1236.0,729.0 L1238.0,729.4 L1240.0,729.8 L1242.0,730.1 L1244.0,730.4 L1246.0,730.8 L1248.0,731.1 L1250.0,731.4 L1252.0,731.7 L1254.0,732.0 L1256.0,732.4 L1258.0,732.7 L1260.0,733.0 L1262.0,733.2 L1264.0,733.5 L1266.0,733.8 L1268.0,734.1 L1270.0,734.4 L1272.0,734.7 L1274.0,735.0 L1276.0,735.2 L1278.0,735.5 L1280.0,735.8 L1282.0,736.0 L1284.0,736.3 L1286.0,736.6 L1288.0,736.8 L1290.0,737.1 L1292.0,737.4 L1294.0,737.6 L1296.0,737.9 L1298.0,738.2 L1300.0,738.4 L1302.0,738.7 L1304.0,739.0 L1306.0,739.3 L1308.0,739.5 L1310.0,739.8 L1312.0,740.1 L1314.0,740.4 L1316.0,740.6 L1318.0,740.9 L1320.0,741.2 L1322.0,741.5 L1324.0,741.8 L1326.0,742.1 L1328.0,742.4 L1330.0,742.7 L1332.0,743.0 L1334.0,743.3 L1336.0,743.7 L1338.0,744.0 L1340.0,744.3 L1342.0,744.7 L1344.0,745.0 L1346.0,745.4 L1348.0,745.8 L1350.0,746.2 L1352.0,746.6 L1354.0,747.0 L1356.0,747.4 L1358.0,747.8 L1360.0,748.3 L1362.0,748.8 L1364.0,749.2 L1366.0,749.7 L1368.0,750.3 L1370.0,750.8 L1372.0,751.4 L1374.0,751.9 L1376.0,752.5 L1378.0,753.2 L1380.0,753.8 L1382.0,754.5 L1384.0,755.2 L1386.0,755.9 L1388.0,756.7 L1390.0,757.5 L1392.0,758.3 L1394.0,759.1 L1396.0,760.0 L1398.0,760.9 L1400.0,761.9 L1402.0,762.8 L1404.0,763.9 L1406.0,764.9 L1408.0,766.0 L1410.0,767.2 L1412.0,768.4 L1414.0,769.6 L1416.0,770.9 L1418.0,772.2 L1420.0,773.6 L1422.0,775.0 L1424.0,776.5 L1426.0,778.0 L1428.0,779.6 L1430.0,781.2 L1432.0,782.9 L1434.0,784.7 L1436.0,786.5 L1438.0,788.3 L1440.0,790.2 L1442.0,792.2 L1444.0,794.3 L1446.0,796.4 L1448.0,798.5 L1450.0,800.8 L1452.0,803.1 L1454.0,805.5 L1456.0,807.9 L1458.0,810.4 L1460.0,813.0 L1462.0,815.6 L1464.0,818.3 L1466.0,821.1 L1468.0,823.9 L1470.0,826.9 L1472.0,829.9 L1474.0,832.9 L1476.0,836.0 L1478.0,839.2 L1480.0,842.5 L1482.0,845.8 L1484.0,849.2 L1486.0,852.7 L1488.0,856.3 L1490.0,859.9 L1492.0,863.5 L1494.0,867.3 L1496.0,871.1 L1498.0,875.0 L1500.0,878.9 L1502.0,882.9 L1504.0,886.9 L1506.0,891.0 L1508.0,895.2 L1510.0,899.4 L1512.0,903.6 L1514.0,907.9 L1516.0,912.3 L1518.0,916.7 L1520.0,921.1 L1522.0,925.6 L1524.0,930.1 L1526.0,934.7 L1528.0,939.2 L1530.0,943.8 L1532.0,948.5 L1534.0,953.1 L1536.0,957.8 L1538.0,962.5 L1540.0,967.1 L1542.0,971.8 L1544.0,976.5 L1546.0,981.3 L1548.0,986.0 L1550.0,990.7 L1552.0,995.3 L1554.0,1000.0 L1556.0,1004.7 L1558.0,1009.3 L1560.0,1014.0 L1562.0,1018.5 L1564.0,1023.1 L1566.0,1027.7 L1568.0,1032.2 L1570.0,1036.6 L1572.0,1041.1 L1574.0,1045.5 L1576.0,1049.8 L1578.0,1054.1 L1580.0,1058.4 L1582.0,1062.6 L1584.0,1066.7 L1586.0,1070.8 L1588.0,1074.8 L1590.0,1078.8 L1592.0,1082.7 L1594.0,1086.6 L1596.0,1090.4 L1598.0,1094.1 L1600.0,1097.8 L1602.0,1101.4 L1604.0,1105.0 L1606.0,1108.4 L1608.0,1111.8 L1610.0,1115.2 L1612.0,1118.5 L1614.0,1121.7 L1616.0,1124.8 L1618.0,1127.9 L1620.0,1130.9 L1622.0,1133.8 L1624.0,1136.7 L1626.0,1139.5 L1628.0,1142.3 L1630.0,1145.0 L1632.0,1147.6 L1634.0,1150.2 L1636.0,1152.7 L1638.0,1155.1 L1640.0,1157.5 L1642.0,1159.9 L1644.0,1162.2 L1646.0,1164.5 L1648.0,1166.7 L1650.0,1168.8 L1652.0,1170.9 L1654.0,1173.0 L1656.0,1175.0 L1658.0,1177.0 L1660.0,1179.0 L1662.0,1180.9 L1664.0,1182.7 L1666.0,1184.6 L1668.0,1186.3 L1670.0,1188.1 L1672.0,1189.7 L1674.0,1191.4 L1676.0,1193.0 L1678.0,1194.5 L1680.0,1196.0 L1682.0,1197.4 L1684.0,1198.8 L1686.0,1200.1 L1688.0,1201.4 L1690.0,1202.6 L1692.0,1203.7 L1694.0,1204.8 L1696.0,1205.9 L1698.0,1206.9 L1700.0,1207.8 L1702.0,1208.7 L1704.0,1209.6 L1706.0,1210.4 L1708.0,1211.1 L1710.0,1211.9 L1712.0,1212.6 L1714.0,1213.2 L1716.0,1213.8 L1718.0,1214.4 L1720.0,1214.9 L1722.0,1215.5 L1724.0,1216.0 L1726.0,1216.4 L1728.0,1216.9 L1730.0,1217.3 L1732.0,1217.7 L1734.0,1218.1 L1736.0,1218.4 L1738.0,1218.8 L1740.0,1219.1 L1742.0,1219.4 L1744.0,1219.7 L1746.0,1219.9 L1748.0,1220.2 L1750.0,1220.5 L1752.0,1220.7 L1754.0,1220.9 L1756.0,1221.1 L1758.0,1221.3 L1760.0,1221.5 L1762.0,1221.7 L1764.0,1221.8 L1766.0,1222.0 L1768.0,1222.2 L1770.0,1222.3 L1772.0,1222.4 L1774.0,1222.6 L1776.0,1222.7 L1778.0,1222.8 L1780.0,1222.9 L1782.0,1223.0 L1784.0,1223.1 L1786.0,1223.2 L1788.0,1223.2 L1790.0,1223.3 L1792.0,1223.4 L1794.0,1223.4 L1796.0,1223.5 L1798.0,1223.5 L1800.0,1223.6 L1802.0,1223.6 L1804.0,1223.7 L1806.0,1223.7 L1808.0,1223.7 L1810.0,1223.7 L1812.0,1223.8 L1814.0,1223.8 L1816.0,1223.8 L1818.0,1223.8 L1820.0,1223.8 L1822.0,1223.8 L1824.0,1223.8 L1826.0,1223.8 L1828.0,1223.8 L1830.0,1223.8 L1832.0,1223.8 L1834.0,1223.8 L1836.0,1223.7 L1838.0,1223.7 L1840.0,1223.7 L1842.0,1223.7 L1844.0,1223.7 L1846.0,1223.6 L1848.0,1223.6 L1850.0,1223.6 L1852.0,1223.5 L1854.0,1223.5 L1856.0,1223.5 L1858.0,1223.4 L1860.0,1223.4 L1862.0,1223.4 L1864.0,1223.3 L1866.0,1223.3 L1868.0,1223.3 L1870.0,1223.2 L1872.0,1223.2 L1874.0,1223.1 L1876.0,1223.1 L1878.0,1223.0 L1880.0,1223.0 L1882.0,1223.0 L1884.0,1222.9 L1886.0,1222.9 L1888.0,1222.8 L1890.0,1222.8 L1892.0,1222.7 L1894.0,1222.7 L1896.0,1222.6 L1898.0,1222.6 L1900.0,1222.6 L1902.0,1222.5 L1904.0,1222.5 L1906.0,1222.4 L1908.0,1222.4 L1910.0,1222.3 L1912.0,1222.3 L1914.0,1222.2 L1916.0,1222.2 L1918.0,1222.2 L1920.0,1222.1 L1922.0,1222.1 L1924.0,1222.0 L1926.0,1222.0 L1928.0,1222.0 L1930.0,1221.9 L1932.0,1221.9 L1934.0,1221.9 L1936.0,1221.8 L1938.0,1221.8 L1940.0,1221.8 L1942.0,1221.7 L1944.0,1221.7 L1946.0,1221.7 L1948.0,1221.6 L1950.0,1221.6 L1952.0,1221.6 L1954.0,1221.6 L1956.0,1221.5 L1958.0,1221.5 L1960.0,1221.5 L1962.0,1221.5 L1964.0,1221.5 L1966.0,1221.4 L1968.0,1221.4 L1970.0,1221.4 L1972.0,1221.4 L1974.0,1221.4 L1976.0,1221.4 L1978.0,1221.4 L1980.0,1221.4 L1982.0,1221.4 L1984.0,1221.3 L1986.0,1221.3 L1988.0,1221.3 L1990.0,1221.3 L1992.0,1221.3 L1994.0,1221.3 L1996.0,1221.3 L1998.0,1221.3 L2000.0,1221.3 L2002.0,1221.3 L2004.0,1221.3 L2006.0,1221.3 L2008.0,1221.3 L2010.0,1221.3 L2012.0,1221.3 L2014.0,1221.3 L2016.0,1221.3 L2018.0,1221.3 L2020.0,1221.3 L2022.0,1221.4 L2024.0,1221.4 L2026.0,1221.4 L2028.0,1221.4 L2030.0,1221.4 L2032.0,1221.4 L2034.0,1221.4 L2036.0,1221.4 L2038.0,1221.4 L2040.0,1221.4 L2042.0,1221.4 L2044.0,1221.4 L2046.0,1221.4 L2048.0,1221.4 L2050.0,1221.4 L2052.0,1221.4 L2054.0,1221.5 L2056.0,1221.5 L2058.0,1221.5 L2060.0,1221.5 L2062.0,1221.5" fill="none" stroke="#FF8000" stroke-width="8.6" stroke-linejoin="round"/>
<path d="M610.0,529.6 L612.0,529.5 L614.0,529.5 L616.0,529.4 L618.0,529.4 L620.0,529.4 L622.0,529.3 L624.0,529.3 L626.0,529.2 L628.0,529.2 L630.0,529.1 L632.0,529.1 L634.0,529.1 L636.0,529.0 L638.0,529.0 L640.0,529.0 L642.0,528.9 L644.0,528.9 L646.0,528.9 L648.0,528.8 L650.0,528.8 L652.0,528.8 L654.0,528.7 L656.0,528.7 L658.0,528.7 L660.0,528.6 L662.0,528.6 L664.0,528.6 L666.0,528.6 L668.0,528.6 L670.0,528.5 L672.0,528.5 L674.0,528.5 L676.0,528.5 L678.0,528.5 L680.0,528.4 L682.0,528.4 L684.0,528.4 L686.0,528.4 L688.0,528.4 L690.0,528.4 L692.0,528.4 L694.0,528.4 L696.0,528.4 L698.0,528.4 L700.0,528.4 L702.0,528.4 L704.0,528.4 L706.0,528.4 L708.0,528.4 L710.0,528.4 L712.0,528.4 L714.0,528.4 L716.0,528.4 L718.0,528.4 L720.0,528.5 L722.0,528.5 L724.0,528.5 L726.0,528.5 L728.0,528.6 L730.0,528.6 L732.0,528.6 L734.0,528.7 L736.0,528.7 L738.0,528.8 L740.0,528.8 L742.0,528.9 L744.0,528.9 L746.0,529.0 L748.0,529.1 L750.0,529.2 L752.0,529.3 L754.0,529.4 L756.0,529.5 L758.0,529.6 L760.0,529.7 L762.0,529.8 L764.0,530.0 L766.0,530.1 L768.0,530.3 L770.0,530.5 L772.0,530.6 L774.0,530.8 L776.0,531.0 L778.0,531.2 L780.0,531.5 L782.0,531.7 L784.0,532.0 L786.0,532.2 L788.0,532.5 L790.0,532.8 L792.0,533.1 L794.0,533.4 L796.0,533.7 L798.0,534.1 L800.0,534.5 L802.0,534.8 L804.0,535.2 L806.0,535.7 L808.0,536.1 L810.0,536.6 L812.0,537.0 L814.0,537.5 L816.0,538.0 L818.0,538.6 L820.0,539.1 L822.0,539.7 L824.0,540.3 L826.0,540.9 L828.0,541.6 L830.0,542.2 L832.0,542.9 L834.0,543.6 L836.0,544.4 L838.0,545.1 L840.0,545.9 L842.0,546.7 L844.0,547.5 L846.0,548.4 L848.0,549.3 L850.0,550.2 L852.0,551.1 L854.0,552.1 L856.0,553.1 L858.0,554.1 L860.0,555.1 L862.0,556.2 L864.0,557.3 L866.0,558.4 L868.0,559.5 L870.0,560.7 L872.0,561.9 L874.0,563.1 L876.0,564.3 L878.0,565.6 L880.0,566.9 L882.0,568.2 L884.0,569.6 L886.0,570.9 L888.0,572.3 L890.0,573.8 L892.0,575.2 L894.0,576.7 L896.0,578.2 L898.0,579.7 L900.0,581.2 L902.0,582.8 L904.0,584.4 L906.0,586.0 L908.0,587.6 L910.0,589.3 L912.0,590.9 L914.0,592.6 L916.0,594.3 L918.0,596.0 L920.0,597.8 L922.0,599.5 L924.0,601.3 L926.0,603.0 L928.0,604.8 L930.0,606.6 L932.0,608.4 L934.0,610.3 L936.0,612.1 L938.0,613.9 L940.0,615.7 L942.0,617.6 L944.0,619.4 L946.0,621.3 L948.0,623.1 L950.0,624.9 L952.0,626.8 L954.0,628.6 L956.0,630.4 L958.0,632.2 L960.0,634.0 L962.0,635.9 L964.0,637.6 L966.0,639.4 L968.0,641.2 L970.0,643.0 L972.0,644.7 L974.0,646.4 L976.0,648.2 L978.0,649.9 L980.0,651.5 L982.0,653.2 L984.0,654.8 L986.0,656.5 L988.0,658.1 L990.0,659.7 L992.0,661.2 L994.0,662.8 L996.0,664.3 L998.0,665.8 L1000.0,667.3 L1002.0,668.7 L1004.0,670.2 L1006.0,671.6 L1008.0,673.0 L1010.0,674.3 L1012.0,675.7 L1014.0,677.0 L1016.0,678.3 L1018.0,679.6 L1020.0,680.8 L1022.0,682.0 L1024.0,683.2 L1026.0,684.4 L1028.0,685.6 L1030.0,686.7 L1032.0,687.8 L1034.0,688.9 L1036.0,690.0 L1038.0,691.0 L1040.0,692.0 L1042.0,693.0 L1044.0,694.0 L1046.0,695.0 L1048.0,695.9 L1050.0,696.9 L1052.0,697.8 L1054.0,698.6 L1056.0,699.5 L1058.0,700.3 L1060.0,701.2 L1062.0,702.0 L1064.0,702.8 L1066.0,703.6 L1068.0,704.3 L1070.0,705.1 L1072.0,705.8 L1074.0,706.5 L1076.0,707.2 L1078.0,707.9 L1080.0,708.5 L1082.0,709.2 L1084.0,709.8 L1086.0,710.4 L1088.0,711.0 L1090.0,711.6 L1092.0,712.2 L1094.0,712.8 L1096.0,713.3 L1098.0,713.9 L1100.0,714.4 L1102.0,714.9 L1104.0,715.4 L1106.0,715.9 L1108.0,716.4 L1110.0,716.8 L1112.0,717.3 L1114.0,717.8 L1116.0,718.2 L1118.0,718.6 L1120.0,719.0 L1122.0,719.5 L1124.0,719.9 L1126.0,720.3 L1128.0,720.6 L1130.0,721.0 L1132.0,721.4 L1134.0,721.8 L1136.0,722.1 L1138.0,722.5 L1140.0,722.8 L1142.0,723.1 L1144.0,723.5 L1146.0,723.8 L1148.0,724.1 L1150.0,724.4 L1152.0,724.7 L1154.0,725.0 L1156.0,725.3 L1158.0,725.6 L1160.0,725.9 L1162.0,726.2 L1164.0,726.4 L1166.0,726.7 L1168.0,727.0 L1170.0,727.2 L1172.0,727.5 L1174.0,727.7 L1176.0,728.0 L1178.0,728.2 L1180.0,728.4 L1182.0,728.7 L1184.0,728.9 L1186.0,729.1 L1188.0,729.3 L1190.0,729.5 L1192.0,729.7 L1194.0,729.9 L1196.0,730.1 L1198.0,730.3 L1200.0,730.5 L1202.0,730.7 L1204.0,730.9 L1206.0,731.1 L1208.0,731.2 L1210.0,731.4 L1212.0,731.6 L1214.0,731.7 L1216.0,731.9 L1218.0,732.1 L1220.0,732.2 L1222.0,732.4 L1224.0,732.5 L1226.0,732.6 L1228.0,732.8 L1230.0,732.9 L1232.0,733.0 L1234.0,733.2 L1236.0,733.3 L1238.0,733.4 L1240.0,733.5 L1242.0,733.6 L1244.0,733.7 L1246.0,733.8 L1248.0,733.9 L1250.0,734.0 L1252.0,734.1 L1254.0,734.2 L1256.0,734.3 L1258.0,734.4 L1260.0,734.5 L1262.0,734.6 L1264.0,734.6 L1266.0,734.7 L1268.0,734.8 L1270.0,734.8 L1272.0,734.9 L1274.0,735.0 L1276.0,735.0 L1278.0,735.1 L1280.0,735.1 L1282.0,735.1 L1284.0,735.2 L1286.0,735.2 L1288.0,735.3 L1290.0,735.3 L1292.0,735.3 L1294.0,735.3 L1296.0,735.3 L1298.0,735.3 L1300.0,735.3 L1302.0,735.3 L1304.0,735.3 L1306.0,735.3 L1308.0,735.3 L1310.0,735.3 L1312.0,735.3 L1314.0,735.2 L1316.0,735.2 L1318.0,735.2 L1320.0,735.1 L1322.0,735.1 L1324.0,735.0 L1326.0,734.9 L1328.0,734.8 L1330.0,734.7 L1332.0,734.6 L1334.0,734.5 L1336.0,734.4 L1338.0,734.3 L1340.0,734.1 L1342.0,734.0 L1344.0,733.8 L1346.0,733.6 L1348.0,733.4 L1350.0,733.2 L1352.0,733.0 L1354.0,732.7 L1356.0,732.5 L1358.0,732.2 L1360.0,731.9 L1362.0,731.5 L1364.0,731.2 L1366.0,730.8 L1368.0,730.4 L1370.0,730.0 L1372.0,729.5 L1374.0,729.0 L1376.0,728.5 L1378.0,727.9 L1380.0,727.3 L1382.0,726.7 L1384.0,726.0 L1386.0,725.3 L1388.0,724.5 L1390.0,723.7 L1392.0,722.8 L1394.0,721.9 L1396.0,721.0 L1398.0,720.0 L1400.0,718.9 L1402.0,717.8 L1404.0,716.6 L1406.0,715.3 L1408.0,714.0 L1410.0,712.6 L1412.0,711.1 L1414.0,709.6 L1416.0,708.0 L1418.0,706.3 L1420.0,704.6 L1422.0,702.7 L1424.0,700.8 L1426.0,698.8 L1428.0,696.7 L1430.0,694.5 L1432.0,692.3 L1434.0,689.9 L1436.0,687.5 L1438.0,684.9 L1440.0,682.3 L1442.0,679.6 L1444.0,676.8 L1446.0,673.9 L1448.0,670.9 L1450.0,667.8 L1452.0,664.7 L1454.0,661.4 L1456.0,658.1 L1458.0,654.7 L1460.0,651.2 L1462.0,647.6 L1464.0,643.9 L1466.0,640.2 L1468.0,636.4 L1470.0,632.6 L1472.0,628.6 L1474.0,624.7 L1476.0,620.7 L1478.0,616.6 L1480.0,612.5 L1482.0,608.3 L1484.0,604.2 L1486.0,600.0 L1488.0,595.8 L1490.0,591.6 L1492.0,587.4 L1494.0,583.3 L1496.0,579.1 L1498.0,575.0 L1500.0,571.0 L1502.0,567.0 L1504.0,563.0 L1506.0,559.2 L1508.0,555.4 L1510.0,551.7 L1512.0,548.2 L1514.0,544.7 L1516.0,541.5 L1518.0,538.3 L1520.0,535.3 L1522.0,532.6 L1524.0,530.0 L1526.0,527.6 L1528.0,525.4 L1530.0,523.5 L1532.0,521.8 L1534.0,520.4 L1536.0,519.2 L1538.0,518.4 L1540.0,517.8 L1542.0,517.6 L1544.0,517.7 L1546.0,518.1 L1548.0,518.9 L1550.0,520.1 L1552.0,521.6 L1554.0,523.5 L1556.0,525.8 L1558.0,528.5 L1560.0,531.6 L1562.0,535.0 L1564.0,538.9 L1566.0,543.2 L1568.0,547.9 L1570.0,552.9 L1572.0,558.4 L1574.0,564.2 L1576.0,570.5 L1578.0,577.0 L1580.0,584.0 L1582.0,591.2 L1584.0,598.8 L1586.0,606.8 L1588.0,615.0 L1590.0,623.5 L1592.0,632.2 L1594.0,641.3 L1596.0,650.5 L1598.0,660.0 L1600.0,669.6 L1602.0,679.5 L1604.0,689.5 L1606.0,699.6 L1608.0,709.9 L1610.0,720.3 L1612.0,730.8 L1614.0,741.3 L1616.0,752.0 L1618.0,762.6 L1620.0,773.3 L1622.0,784.0 L1624.0,794.7 L1626.0,805.4 L1628.0,816.1 L1630.0,826.7 L1632.0,837.3 L1634.0,847.8 L1636.0,858.2 L1638.0,868.6 L1640.0,878.9 L1642.0,889.0 L1644.0,899.1 L1646.0,909.1 L1648.0,918.9 L1650.0,928.6 L1652.0,938.1 L1654.0,947.6 L1656.0,956.8 L1658.0,965.9 L1660.0,974.9 L1662.0,983.6 L1664.0,992.3 L1666.0,1000.7 L1668.0,1008.9 L1670.0,1017.0 L1672.0,1024.9 L1674.0,1032.5 L1676.0,1040.0 L1678.0,1047.3 L1680.0,1054.3 L1682.0,1061.2 L1684.0,1067.8 L1686.0,1074.3 L1688.0,1080.5 L1690.0,1086.5 L1692.0,1092.4 L1694.0,1098.0 L1696.0,1103.4 L1698.0,1108.6 L1700.0,1113.6 L1702.0,1118.4 L1704.0,1123.0 L1706.0,1127.4 L1708.0,1131.7 L1710.0,1135.8 L1712.0,1139.7 L1714.0,1143.4 L1716.0,1147.0 L1718.0,1150.4 L1720.0,1153.7 L1722.0,1156.8 L1724.0,1159.8 L1726.0,1162.6 L1728.0,1165.3 L1730.0,1167.9 L1732.0,1170.3 L1734.0,1172.7 L1736.0,1174.9 L1738.0,1177.0 L1740.0,1179.0 L1742.0,1180.9 L1744.0,1182.7 L1746.0,1184.5 L1748.0,1186.1 L1750.0,1187.7 L1752.0,1189.1 L1754.0,1190.5 L1756.0,1191.9 L1758.0,1193.1 L1760.0,1194.3 L1762.0,1195.4 L1764.0,1196.5 L1766.0,1197.5 L1768.0,1198.4 L1770.0,1199.3 L1772.0,1200.2 L1774.0,1201.0 L1776.0,1201.7 L1778.0,1202.5 L1780.0,1203.1 L1782.0,1203.8 L1784.0,1204.4 L1786.0,1205.0 L1788.0,1205.5 L1790.0,1206.0 L1792.0,1206.5 L1794.0,1206.9 L1796.0,1207.4 L1798.0,1207.8 L1800.0,1208.1 L1802.0,1208.5 L1804.0,1208.8 L1806.0,1209.1 L1808.0,1209.4 L1810.0,1209.7 L1812.0,1210.0 L1814.0,1210.2 L1816.0,1210.5 L1818.0,1210.7 L1820.0,1210.9 L1822.0,1211.1 L1824.0,1211.3 L1826.0,1211.5 L1828.0,1211.6 L1830.0,1211.8 L1832.0,1211.9 L1834.0,1212.0 L1836.0,1212.2 L1838.0,1212.3 L1840.0,1212.4 L1842.0,1212.5 L1844.0,1212.6 L1846.0,1212.7 L1848.0,1212.8 L1850.0,1212.9 L1852.0,1213.0 L1854.0,1213.0 L1856.0,1213.1 L1858.0,1213.2 L1860.0,1213.2 L1862.0,1213.3 L1864.0,1213.3 L1866.0,1213.4 L1868.0,1213.4 L1870.0,1213.5 L1872.0,1213.5 L1874.0,1213.6 L1876.0,1213.6 L1878.0,1213.6 L1880.0,1213.7 L1882.0,1213.7 L1884.0,1213.7 L1886.0,1213.7 L1888.0,1213.8 L1890.0,1213.8 L1892.0,1213.8 L1894.0,1213.8 L1896.0,1213.8 L1898.0,1213.8 L1900.0,1213.9 L1902.0,1213.9 L1904.0,1213.9 L1906.0,1213.9 L1908.0,1213.9 L1910.0,1213.9 L1912.0,1213.9 L1914.0,1213.9 L1916.0,1214.0 L1918.0,1214.0 L1920.0,1214.0 L1922.0,1214.0 L1924.0,1214.0 L1926.0,1214.0 L1928.0,1214.0 L1930.0,1214.0 L1932.0,1214.0 L1934.0,1214.1 L1936.0,1214.1 L1938.0,1214.1 L1940.0,1214.1 L1942.0,1214.1 L1944.0,1214.1 L1946.0,1214.1 L1948.0,1214.1 L1950.0,1214.2 L1952.0,1214.2 L1954.0,1214.2 L1956.0,1214.2 L1958.0,1214.2 L1960.0,1214.2 L1962.0,1214.3 L1964.0,1214.3 L1966.0,1214.3 L1968.0,1214.3 L1970.0,1214.3 L1972.0,1214.4 L1974.0,1214.4 L1976.0,1214.4 L1978.0,1214.4 L1980.0,1214.5 L1982.0,1214.5 L1984.0,1214.5 L1986.0,1214.5 L1988.0,1214.6 L1990.0,1214.6 L1992.0,1214.6 L1994.0,1214.7 L1996.0,1214.7 L1998.0,1214.7 L2000.0,1214.7 L2002.0,1214.8 L2004.0,1214.8 L2006.0,1214.8 L2008.0,1214.9 L2010.0,1214.9 L2012.0,1214.9 L2014.0,1214.9 L2016.0,1215.0 L2018.0,1215.0 L2020.0,1215.0 L2022.0,1215.1 L2024.0,1215.1 L2026.0,1215.1 L2028.0,1215.2 L2030.0,1215.2 L2032.0,1215.2 L2034.0,1215.3 L2036.0,1215.3 L2038.0,1215.3 L2040.0,1215.3 L2042.0,1215.4 L2044.0,1215.4 L2046.0,1215.4 L2048.0,1215.5 L2050.0,1215.5 L2052.0,1215.5 L2054.0,1215.6 L2056.0,1215.6 L2058.0,1215.6 L2060.0,1215.6 L2062.0,1215.7" fill="none" stroke="#800080" stroke-width="8.4" stroke-linejoin="round"/>
<path d="M610.0,530.2 L612.0,530.1 L614.0,530.1 L616.0,530.0 L618.0,530.0 L620.0,529.9 L622.0,529.9 L624.0,529.8 L626.0,529.8 L628.0,529.7 L630.0,529.7 L632.0,529.7 L634.0,529.6 L636.0,529.6 L638.0,529.5 L640.0,529.5 L642.0,529.4 L644.0,529.4 L646.0,529.4 L648.0,529.3 L650.0,529.3 L652.0,529.3 L654.0,529.2 L656.0,529.2 L658.0,529.2 L660.0,529.1 L662.0,529.1 L664.0,529.1 L666.0,529.0 L668.0,529.0 L670.0,529.0 L672.0,529.0 L674.0,528.9 L676.0,528.9 L678.0,528.9 L680.0,528.9 L682.0,528.9 L684.0,528.9 L686.0,528.8 L688.0,528.8 L690.0,528.8 L692.0,528.8 L694.0,528.8 L696.0,528.8 L698.0,528.8 L700.0,528.8 L702.0,528.8 L704.0,528.8 L706.0,528.8 L708.0,528.8 L710.0,528.8 L712.0,528.8 L714.0,528.8 L716.0,528.8 L718.0,528.8 L720.0,528.8 L722.0,528.9 L724.0,528.9 L726.0,528.9 L728.0,528.9 L730.0,529.0 L732.0,529.0 L734.0,529.0 L736.0,529.1 L738.0,529.1 L740.0,529.2 L742.0,529.3 L744.0,529.3 L746.0,529.4 L748.0,529.5 L750.0,529.6 L752.0,529.7 L754.0,529.8 L756.0,529.9 L758.0,530.0 L760.0,530.1 L762.0,530.2 L764.0,530.4 L766.0,530.5 L768.0,530.7 L770.0,530.9 L772.0,531.0 L774.0,531.2 L776.0,531.4 L778.0,531.7 L780.0,531.9 L782.0,532.1 L784.0,532.4 L786.0,532.6 L788.0,532.9 L790.0,533.2 L792.0,533.5 L794.0,533.8 L796.0,534.2 L798.0,534.5 L800.0,534.9 L802.0,535.3 L804.0,535.7 L806.0,536.1 L808.0,536.6 L810.0,537.0 L812.0,537.5 L814.0,538.0 L816.0,538.5 L818.0,539.1 L820.0,539.6 L822.0,540.2 L824.0,540.8 L826.0,541.5 L828.0,542.1 L830.0,542.8 L832.0,543.5 L834.0,544.2 L836.0,544.9 L838.0,545.7 L840.0,546.5 L842.0,547.3 L844.0,548.2 L846.0,549.0 L848.0,549.9 L850.0,550.9 L852.0,551.8 L854.0,552.8 L856.0,553.8 L858.0,554.8 L860.0,555.8 L862.0,556.9 L864.0,558.0 L866.0,559.1 L868.0,560.3 L870.0,561.5 L872.0,562.7 L874.0,563.9 L876.0,565.2 L878.0,566.4 L880.0,567.7 L882.0,569.1 L884.0,570.4 L886.0,571.8 L888.0,573.2 L890.0,574.7 L892.0,576.1 L894.0,577.6 L896.0,579.1 L898.0,580.6 L900.0,582.2 L902.0,583.8 L904.0,585.4 L906.0,587.0 L908.0,588.6 L910.0,590.3 L912.0,592.0 L914.0,593.7 L916.0,595.4 L918.0,597.1 L920.0,598.9 L922.0,600.6 L924.0,602.4 L926.0,604.2 L928.0,606.0 L930.0,607.8 L932.0,609.6 L934.0,611.5 L936.0,613.3 L938.0,615.2 L940.0,617.0 L942.0,618.9 L944.0,620.7 L946.0,622.6 L948.0,624.4 L950.0,626.3 L952.0,628.1 L954.0,630.0 L956.0,631.8 L958.0,633.6 L960.0,635.5 L962.0,637.3 L964.0,639.1 L966.0,640.9 L968.0,642.7 L970.0,644.5 L972.0,646.2 L974.0,648.0 L976.0,649.7 L978.0,651.4 L980.0,653.1 L982.0,654.8 L984.0,656.5 L986.0,658.1 L988.0,659.7 L990.0,661.3 L992.0,662.9 L994.0,664.5 L996.0,666.0 L998.0,667.5 L1000.0,669.0 L1002.0,670.5 L1004.0,671.9 L1006.0,673.4 L1008.0,674.8 L1010.0,676.2 L1012.0,677.5 L1014.0,678.9 L1016.0,680.2 L1018.0,681.4 L1020.0,682.7 L1022.0,684.0 L1024.0,685.2 L1026.0,686.4 L1028.0,687.5 L1030.0,688.7 L1032.0,689.8 L1034.0,690.9 L1036.0,692.0 L1038.0,693.1 L1040.0,694.1 L1042.0,695.1 L1044.0,696.1 L1046.0,697.1 L1048.0,698.1 L1050.0,699.0 L1052.0,699.9 L1054.0,700.8 L1056.0,701.7 L1058.0,702.6 L1060.0,703.4 L1062.0,704.3 L1064.0,705.1 L1066.0,705.9 L1068.0,706.6 L1070.0,707.4 L1072.0,708.1 L1074.0,708.9 L1076.0,709.6 L1078.0,710.3 L1080.0,711.0 L1082.0,711.6 L1084.0,712.3 L1086.0,712.9 L1088.0,713.6 L1090.0,714.2 L1092.0,714.8 L1094.0,715.4 L1096.0,715.9 L1098.0,716.5 L1100.0,717.1 L1102.0,717.6 L1104.0,718.1 L1106.0,718.7 L1108.0,719.2 L1110.0,719.7 L1112.0,720.2 L1114.0,720.6 L1116.0,721.1 L1118.0,721.6 L1120.0,722.0 L1122.0,722.5 L1124.0,722.9 L1126.0,723.3 L1128.0,723.7 L1130.0,724.1 L1132.0,724.5 L1134.0,724.9 L1136.0,725.3 L1138.0,725.7 L1140.0,726.1 L1142.0,726.5 L1144.0,726.8 L1146.0,727.2 L1148.0,727.5 L1150.0,727.9 L1152.0,728.2 L1154.0,728.6 L1156.0,728.9 L1158.0,729.2 L1160.0,729.5 L1162.0,729.9 L1164.0,730.2 L1166.0,730.5 L1168.0,730.8 L1170.0,731.1 L1172.0,731.4 L1174.0,731.7 L1176.0,731.9 L1178.0,732.2 L1180.0,732.5 L1182.0,732.8 L1184.0,733.0 L1186.0,733.3 L1188.0,733.5 L1190.0,733.8 L1192.0,734.0 L1194.0,734.2 L1196.0,734.5 L1198.0,734.7 L1200.0,734.9 L1202.0,735.1 L1204.0,735.3 L1206.0,735.6 L1208.0,735.7 L1210.0,735.9 L1212.0,736.1 L1214.0,736.3 L1216.0,736.5 L1218.0,736.7 L1220.0,736.8 L1222.0,737.0 L1224.0,737.1 L1226.0,737.3 L1228.0,737.4 L1230.0,737.5 L1232.0,737.7 L1234.0,737.8 L1236.0,737.9 L1238.0,738.0 L1240.0,738.1 L1242.0,738.2 L1244.0,738.3 L1246.0,738.4 L1248.0,738.4 L1250.0,738.5 L1252.0,738.6 L1254.0,738.6 L1256.0,738.6 L1258.0,738.7 L1260.0,738.7 L1262.0,738.7 L1264.0,738.7 L1266.0,738.7 L1268.0,738.7 L1270.0,738.7 L1272.0,738.7 L1274.0,738.6 L1276.0,738.6 L1278.0,738.6 L1280.0,738.5 L1282.0,738.4 L1284.0,738.3 L1286.0,738.3 L1288.0,738.1 L1290.0,738.0 L1292.0,737.9 L1294.0,737.8 L1296.0,737.6 L1298.0,737.5 L1300.0,737.3 L1302.0,737.1 L1304.0,736.9 L1306.0,736.7 L1308.0,736.4 L1310.0,736.1 L1312.0,735.9 L1314.0,735.6 L1316.0,735.2 L1318.0,734.9 L1320.0,734.5 L1322.0,734.1 L1324.0,733.7 L1326.0,733.2 L1328.0,732.7 L1330.0,732.2 L1332.0,731.7 L1334.0,731.1 L1336.0,730.5 L1338.0,729.8 L1340.0,729.1 L1342.0,728.4 L1344.0,727.6 L1346.0,726.8 L1348.0,725.9 L1350.0,725.0 L1352.0,724.0 L1354.0,722.9 L1356.0,721.9 L1358.0,720.7 L1360.0,719.5 L1362.0,718.3 L1364.0,716.9 L1366.0,715.6 L1368.0,714.1 L1370.0,712.6 L1372.0,711.1 L1374.0,709.4 L1376.0,707.7 L1378.0,706.0 L1380.0,704.2 L1382.0,702.3 L1384.0,700.3 L1386.0,698.3 L1388.0,696.3 L1390.0,694.1 L1392.0,692.0 L1394.0,689.7 L1396.0,687.5 L1398.0,685.1 L1400.0,682.8 L1402.0,680.3 L1404.0,677.9 L1406.0,675.4 L1408.0,672.9 L1410.0,670.4 L1412.0,667.9 L1414.0,665.3 L1416.0,662.8 L1418.0,660.3 L1420.0,657.7 L1422.0,655.3 L1424.0,652.8 L1426.0,650.4 L1428.0,648.0 L1430.0,645.7 L1432.0,643.5 L1434.0,641.3 L1436.0,639.3 L1438.0,637.4 L1440.0,635.6 L1442.0,633.9 L1444.0,632.4 L1446.0,631.0 L1448.0,629.8 L1450.0,628.9 L1452.0,628.1 L1454.0,627.5 L1456.0,627.2 L1458.0,627.2 L1460.0,627.4 L1462.0,627.9 L1464.0,628.6 L1466.0,629.7 L1468.0,631.1 L1470.0,632.8 L1472.0,634.9 L1474.0,637.2 L1476.0,639.9 L1478.0,643.0 L1480.0,646.4 L1482.0,650.1 L1484.0,654.2 L1486.0,658.6 L1488.0,663.3 L1490.0,668.3 L1492.0,673.7 L1494.0,679.3 L1496.0,685.2 L1498.0,691.4 L1500.0,697.9 L1502.0,704.6 L1504.0,711.5 L1506.0,718.6 L1508.0,725.9 L1510.0,733.4 L1512.0,741.1 L1514.0,748.9 L1516.0,756.8 L1518.0,764.9 L1520.0,773.0 L1522.0,781.3 L1524.0,789.6 L1526.0,798.0 L1528.0,806.4 L1530.0,814.9 L1532.0,823.4 L1534.0,831.9 L1536.0,840.4 L1538.0,848.8 L1540.0,857.3 L1542.0,865.7 L1544.0,874.1 L1546.0,882.4 L1548.0,890.7 L1550.0,898.9 L1552.0,907.0 L1554.0,915.1 L1556.0,923.0 L1558.0,930.9 L1560.0,938.7 L1562.0,946.3 L1564.0,953.9 L1566.0,961.3 L1568.0,968.6 L1570.0,975.8 L1572.0,982.8 L1574.0,989.7 L1576.0,996.5 L1578.0,1003.2 L1580.0,1009.7 L1582.0,1016.1 L1584.0,1022.3 L1586.0,1028.4 L1588.0,1034.4 L1590.0,1040.2 L1592.0,1045.9 L1594.0,1051.4 L1596.0,1056.8 L1598.0,1062.1 L1600.0,1067.2 L1602.0,1072.2 L1604.0,1077.0 L1606.0,1081.8 L1608.0,1086.3 L1610.0,1090.8 L1612.0,1095.1 L1614.0,1099.3 L1616.0,1103.4 L1618.0,1107.4 L1620.0,1111.2 L1622.0,1115.0 L1624.0,1118.6 L1626.0,1122.1 L1628.0,1125.6 L1630.0,1128.9 L1632.0,1132.1 L1634.0,1135.2 L1636.0,1138.3 L1638.0,1141.2 L1640.0,1144.1 L1642.0,1146.9 L1644.0,1149.6 L1646.0,1152.2 L1648.0,1154.8 L1650.0,1157.3 L1652.0,1159.7 L1654.0,1162.1 L1656.0,1164.4 L1658.0,1166.7 L1660.0,1168.9 L1662.0,1171.0 L1664.0,1173.1 L1666.0,1175.1 L1668.0,1177.1 L1670.0,1179.0 L1672.0,1180.9 L1674.0,1182.7 L1676.0,1184.4 L1678.0,1186.1 L1680.0,1187.7 L1682.0,1189.3 L1684.0,1190.8 L1686.0,1192.2 L1688.0,1193.6 L1690.0,1194.9 L1692.0,1196.2 L1694.0,1197.4 L1696.0,1198.6 L1698.0,1199.7 L1700.0,1200.7 L1702.0,1201.7 L1704.0,1202.6 L1706.0,1203.5 L1708.0,1204.4 L1710.0,1205.2 L1712.0,1205.9 L1714.0,1206.6 L1716.0,1207.3 L1718.0,1208.0 L1720.0,1208.6 L1722.0,1209.2 L1724.0,1209.7 L1726.0,1210.3 L1728.0,1210.8 L1730.0,1211.3 L1732.0,1211.7 L1734.0,1212.1 L1736.0,1212.6 L1738.0,1213.0 L1740.0,1213.3 L1742.0,1213.7 L1744.0,1214.0 L1746.0,1214.4 L1748.0,1214.7 L1750.0,1215.0 L1752.0,1215.2 L1754.0,1215.5 L1756.0,1215.8 L1758.0,1216.0 L1760.0,1216.3 L1762.0,1216.5 L1764.0,1216.7 L1766.0,1216.9 L1768.0,1217.1 L1770.0,1217.3 L1772.0,1217.5 L1774.0,1217.6 L1776.0,1217.8 L1778.0,1217.9 L1780.0,1218.1 L1782.0,1218.2 L1784.0,1218.4 L1786.0,1218.5 L1788.0,1218.6 L1790.0,1218.7 L1792.0,1218.8 L1794.0,1218.9 L1796.0,1219.0 L1798.0,1219.1 L1800.0,1219.2 L1802.0,1219.3 L1804.0,1219.3 L1806.0,1219.4 L1808.0,1219.5 L1810.0,1219.5 L1812.0,1219.6 L1814.0,1219.6 L1816.0,1219.7 L1818.0,1219.7 L1820.0,1219.8 L1822.0,1219.8 L1824.0,1219.8 L1826.0,1219.9 L1828.0,1219.9 L1830.0,1219.9 L1832.0,1219.9 L1834.0,1220.0 L1836.0,1220.0 L1838.0,1220.0 L1840.0,1220.0 L1842.0,1220.0 L1844.0,1220.0 L1846.0,1220.0 L1848.0,1220.0 L1850.0,1220.0 L1852.0,1220.0 L1854.0,1220.0 L1856.0,1220.0 L1858.0,1220.0 L1860.0,1220.0 L1862.0,1220.0 L1864.0,1220.0 L1866.0,1220.0 L1868.0,1220.0 L1870.0,1220.0 L1872.0,1219.9 L1874.0,1219.9 L1876.0,1219.9 L1878.0,1219.9 L1880.0,1219.9 L1882.0,1219.8 L1884.0,1219.8 L1886.0,1219.8 L1888.0,1219.8 L1890.0,1219.8 L1892.0,1219.7 L1894.0,1219.7 L1896.0,1219.7 L1898.0,1219.7 L1900.0,1219.6 L1902.0,1219.6 L1904.0,1219.6 L1906.0,1219.5 L1908.0,1219.5 L1910.0,1219.5 L1912.0,1219.5 L1914.0,1219.4 L1916.0,1219.4 L1918.0,1219.4 L1920.0,1219.4 L1922.0,1219.3 L1924.0,1219.3 L1926.0,1219.3 L1928.0,1219.3 L1930.0,1219.2 L1932.0,1219.2 L1934.0,1219.2 L1936.0,1219.2 L1938.0,1219.1 L1940.0,1219.1 L1942.0,1219.1 L1944.0,1219.1 L1946.0,1219.1 L1948.0,1219.0 L1950.0,1219.0 L1952.0,1219.0 L1954.0,1219.0 L1956.0,1219.0 L1958.0,1219.0 L1960.0,1218.9 L1962.0,1218.9 L1964.0,1218.9 L1966.0,1218.9 L1968.0,1218.9 L1970.0,1218.9 L1972.0,1218.9 L1974.0,1218.9 L1976.0,1218.9 L1978.0,1218.9 L1980.0,1218.9 L1982.0,1218.9 L1984.0,1218.9 L1986.0,1218.9 L1988.0,1218.8 L1990.0,1218.8 L1992.0,1218.8 L1994.0,1218.8 L1996.0,1218.8 L1998.0,1218.8 L2000.0,1218.8 L2002.0,1218.8 L2004.0,1218.9 L2006.0,1218.9 L2008.0,1218.9 L2010.0,1218.9 L2012.0,1218.9 L2014.0,1218.9 L2016.0,1218.9 L2018.0,1218.9 L2020.0,1218.9 L2022.0,1218.9 L2024.0,1218.9 L2026.0,1218.9 L2028.0,1218.9 L2030.0,1218.9 L2032.0,1218.9 L2034.0,1218.9 L2036.0,1218.9 L2038.0,1218.9 L2040.0,1218.9 L2042.0,1218.9 L2044.0,1218.9 L2046.0,1218.9 L2048.0,1219.0 L2050.0,1219.0 L2052.0,1219.0 L2054.0,1219.0 L2056.0,1219.0 L2058.0,1219.0 L2060.0,1219.0 L2062.0,1219.0" fill="none" stroke="#0000FF" stroke-width="8.6" stroke-linejoin="round"/>
<line x1="1306.0" y1="480.1" x2="1424.6" y2="597.0" stroke="#00FF00" stroke-width="8.5"/><polygon points="1452.5,624.8 1432.3,586.0 1414.0,605.2" fill="#00FF00"/>
<line x1="1705.5" y1="325.0" x2="1559.6" y2="487.9" stroke="#800080" stroke-width="7.5"/><polygon points="1532.0,515.8 1550.8,477.8 1571.0,495.0" fill="#800080"/>
<rect x="428" y="44" width="4" height="1416" fill="#000"/>
<rect x="428" y="44" width="1759" height="5" fill="#000"/>
<rect x="2182" y="44" width="5" height="1416" fill="#000"/>
<rect x="428" y="1455" width="1759" height="5" fill="#000"/>
<rect x="432" y="127.0" width="26" height="5" fill="#000"/>
<rect x="432" y="459.0" width="26" height="5" fill="#000"/>
<rect x="432" y="791.0" width="26" height="5" fill="#000"/>
<rect x="432" y="1123.0" width="26" height="5" fill="#000"/>
<rect x="432" y="293.0" width="12" height="5" fill="#000"/>
<rect x="432" y="625.0" width="12" height="5" fill="#000"/>
<rect x="432" y="957.0" width="12" height="5" fill="#000"/>
<rect x="432" y="1289.0" width="12" height="5" fill="#000"/>
<rect x="537.0" y="1430" width="5" height="25" fill="#000"/>
<rect x="756.4" y="1430" width="5" height="25" fill="#000"/>
<rect x="975.7" y="1430" width="5" height="25" fill="#000"/>
<rect x="1195.1" y="1430" width="5" height="25" fill="#000"/>
<rect x="1414.4" y="1430" width="5" height="25" fill="#000"/>
<rect x="1633.8" y="1430" width="5" height="25" fill="#000"/>
<rect x="1853.1" y="1430" width="5" height="25" fill="#000"/>
<rect x="2072.5" y="1430" width="5" height="25" fill="#000"/>
<rect x="646.7" y="1444" width="5" height="11" fill="#000"/>
<rect x="866.0" y="1444" width="5" height="11" fill="#000"/>
<rect x="1085.4" y="1444" width="5" height="11" fill="#000"/>
<rect x="1304.7" y="1444" width="5" height="11" fill="#000"/>
<rect x="1524.1" y="1444" width="5" height="11" fill="#000"/>
<rect x="1743.5" y="1444" width="5" height="11" fill="#000"/>
<rect x="1962.8" y="1444" width="5" height="11" fill="#000"/>
<text x="405" y="149.1" text-anchor="end" class="tl">24,000</text>
<text x="402" y="479.1" text-anchor="end" class="tl">20,000</text>
<text x="399" y="818" text-anchor="end" class="tl">16,000</text>
<text x="399" y="1144" text-anchor="end" class="tl">12,000</text>
<text x="400" y="1482" text-anchor="end" class="tl">8000</text>
<text x="539.0" y="1550" text-anchor="middle" class="tl">735</text>
<text x="758.4" y="1550" text-anchor="middle" class="tl">730</text>
<text x="977.7" y="1550" text-anchor="middle" class="tl">725</text>
<text x="1197.1" y="1550" text-anchor="middle" class="tl">720</text>
<text x="1416.4" y="1550" text-anchor="middle" class="tl">715</text>
<text x="1635.8" y="1550" text-anchor="middle" class="tl">710</text>
<text x="1855.1" y="1550" text-anchor="middle" class="tl">705</text>
<text x="2074.5" y="1550" text-anchor="middle" class="tl">700</text>
<text x="1307.5" y="1689" text-anchor="middle" class="at">Binding Energy (eV)</text>
<text transform="translate(114.5,698) rotate(-90)" text-anchor="middle" class="at">Intensity (a.u.)</text>
<rect x="515" y="1026.8" width="150" height="8" fill="#808080"/>
<text x="680" y="1053.0" class="lg">Original Curve</text>
<rect x="515" y="1108.8" width="150" height="8" fill="#FF0000"/>
<text x="680" y="1134.5" class="lg">Fitting Curve</text>
<rect x="515" y="1190.8" width="150" height="8" fill="#00FFFF"/>
<text x="680" y="1216.0" class="lg">Background Line</text>
<text x="800" y="304" class="an" fill="#FF8000">FeOOH</text>
<text x="1230.5" y="463.5" class="an" fill="#00FF00">FeS</text>
<text x="1681" y="323" class="an" fill="#800080">Fe<tspan font-size="59" dy="23">2</tspan><tspan dy="-23">O</tspan><tspan font-size="59" dy="23">3</tspan></text>
</svg>
</body></html>
